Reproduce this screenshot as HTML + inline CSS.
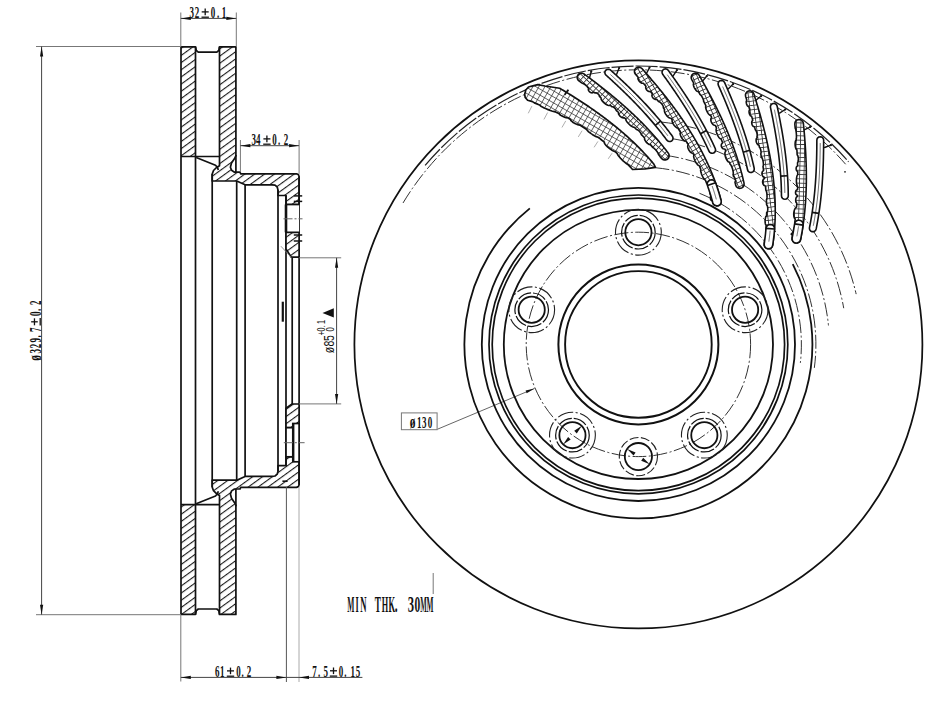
<!DOCTYPE html>
<html><head><meta charset="utf-8"><style>
html,body{margin:0;padding:0;background:#fff;}
svg{display:block;}
</style></head><body>
<svg width="952" height="719" viewBox="0 0 952 719">
<defs><pattern id="h1" patternUnits="userSpaceOnUse" width="10" height="5.8" patternTransform="rotate(-36)"><rect width="10" height="5.8" fill="#fff"/><line x1="0" y1="0.55" x2="10" y2="0.55" stroke="#1a1a1a" stroke-width="1.1"/></pattern><pattern id="xh1" patternUnits="userSpaceOnUse" width="4.3" height="4.3" patternTransform="rotate(43.21)"><rect width="4.3" height="4.3" fill="#fff"/><path d="M0 0.45H4.3 M0.45 0V4.3" stroke="#333" stroke-width="0.85"/></pattern><pattern id="xh2" patternUnits="userSpaceOnUse" width="4.3" height="4.3" patternTransform="rotate(58.99)"><rect width="4.3" height="4.3" fill="#fff"/><path d="M0 0.45H4.3 M0.45 0V4.3" stroke="#333" stroke-width="0.85"/></pattern><pattern id="xh3" patternUnits="userSpaceOnUse" width="4.3" height="4.3" patternTransform="rotate(67.42)"><rect width="4.3" height="4.3" fill="#fff"/><path d="M0 0.45H4.3 M0.45 0V4.3" stroke="#333" stroke-width="0.85"/></pattern><pattern id="xh4" patternUnits="userSpaceOnUse" width="4.3" height="4.3" patternTransform="rotate(82.85)"><rect width="4.3" height="4.3" fill="#fff"/><path d="M0 0.45H4.3 M0.45 0V4.3" stroke="#333" stroke-width="0.85"/></pattern><pattern id="xh5" patternUnits="userSpaceOnUse" width="4.3" height="4.3" patternTransform="rotate(91.38)"><rect width="4.3" height="4.3" fill="#fff"/><path d="M0 0.45H4.3 M0.45 0V4.3" stroke="#333" stroke-width="0.85"/></pattern><pattern id="xh6" patternUnits="userSpaceOnUse" width="5.2" height="5.2" patternTransform="rotate(-60)"><rect width="5.2" height="5.2" fill="#fff"/><path d="M0 0.45H5.2 M0.45 0V5.2" stroke="#333" stroke-width="0.7"/></pattern></defs>
<rect width="952" height="719" fill="#fff"/>
<polygon points="181,46.8 195.5,46.8 195.5,156.5 181,156.5" fill="url(#h1)" stroke="none"/>
<polygon points="219.5,46.8 235.9,46.8 235.9,155.7 234.6,158.5 231.5,163 230.4,167.2 231.6,170.3 234.5,172.2 240.1,172.2 240.6,173.8 296.5,173.8 298.4,174.6 299.1,176.5 299.1,204.5 286,204.5 286,195.5 278,195.5 278,190 277.2,187 275,185.2 272,184.8 245.1,184.8 236.7,181 212.2,181 212.2,174.1 213.5,170.5 216.5,167.5 219.5,165.7" fill="url(#h1)" stroke="#111" stroke-width="1.7" stroke-linejoin="round"/>
<polygon points="181,614.4 195.5,614.4 195.5,504.7 181,504.7" fill="url(#h1)" stroke="none"/>
<polygon points="219.5,614.4 235.9,614.4 235.9,505.5 234.6,502.7 231.5,498.2 230.4,494 231.6,490.9 234.5,489 240.1,489 240.6,487.4 296.5,487.4 298.4,486.6 299.1,484.7 299.1,456.7 286,456.7 286,465.7 278,465.7 278,471.2 277.2,474.2 275,476 272,476.4 245.1,476.4 236.7,480.2 212.2,480.2 212.2,487.1 213.5,490.7 216.5,493.7 219.5,495.5" fill="url(#h1)" stroke="#111" stroke-width="1.7" stroke-linejoin="round"/>
<line x1="181" y1="46.8" x2="181" y2="614.7" stroke="#111" stroke-width="1.7"/>
<line x1="195.5" y1="46.8" x2="195.5" y2="614.7" stroke="#111" stroke-width="1.7"/>
<polyline points="181,46.8 195.5,46.8 196.3,50.5 198.3,52.2 216.8,52.2 218.8,50.5 219.5,46.8" fill="none" stroke="#111" stroke-width="1.7" stroke-linejoin="round"/>
<line x1="181" y1="156.5" x2="219.5" y2="156.5" stroke="#111" stroke-width="1.7"/>
<polyline points="196.2,157.5 215.5,165.2 217.5,167.5 218.3,170" fill="none" stroke="#111" stroke-width="1.7" stroke-linejoin="round"/>
<line x1="235.9" y1="155" x2="235.9" y2="172.2" stroke="#111" stroke-width="1.7"/>
<polyline points="181,614.4 195.5,614.4 196.3,610.7 198.3,609 216.8,609 218.8,610.7 219.5,614.4" fill="none" stroke="#111" stroke-width="1.7" stroke-linejoin="round"/>
<line x1="181" y1="504.7" x2="219.5" y2="504.7" stroke="#111" stroke-width="1.7"/>
<polyline points="196.2,503.7 215.5,496 217.5,493.7 218.3,491.2" fill="none" stroke="#111" stroke-width="1.7" stroke-linejoin="round"/>
<line x1="235.9" y1="506.2" x2="235.9" y2="489" stroke="#111" stroke-width="1.7"/>
<line x1="212.2" y1="174.1" x2="212.2" y2="487.1" stroke="#111" stroke-width="1.7"/>
<line x1="236.7" y1="181" x2="236.7" y2="480.2" stroke="#111" stroke-width="1.7"/>
<line x1="245.1" y1="184.8" x2="245.1" y2="476.4" stroke="#111" stroke-width="1.7"/>
<line x1="278" y1="190" x2="278" y2="471.2" stroke="#111" stroke-width="1.7"/>
<line x1="286" y1="195.5" x2="286" y2="465.7" stroke="#111" stroke-width="1.7"/>
<line x1="292.2" y1="257" x2="292.2" y2="404.2" stroke="#111" stroke-width="1.7"/>
<line x1="299.1" y1="176.5" x2="299.1" y2="484.7" stroke="#111" stroke-width="1.7"/>
<rect x="286" y="204.5" width="13.1" height="27.8" fill="#fff"/>
<polygon points="286,232.3 299.1,232.3 299.1,257.2 291.3,257.2 286,249" fill="url(#h1)" stroke="#111" stroke-width="1.7" stroke-linejoin="round"/>
<line x1="286" y1="204.5" x2="286" y2="232.3" stroke="#111" stroke-width="2.6"/>
<line x1="286" y1="204.5" x2="299.1" y2="204.5" stroke="#111" stroke-width="1.7"/>
<line x1="293.8" y1="195.9" x2="302.2" y2="195.9" stroke="#111" stroke-width="1.5"/>
<line x1="293.8" y1="201.4" x2="302.2" y2="201.4" stroke="#111" stroke-width="1.5"/>
<line x1="293.8" y1="235" x2="302.2" y2="235" stroke="#111" stroke-width="1.5"/>
<line x1="293.8" y1="241" x2="302.2" y2="241" stroke="#111" stroke-width="1.5"/>
<line x1="283.5" y1="218.8" x2="302.5" y2="218.8" stroke="#666" stroke-width="1" stroke-dasharray="9 2 2 2"/>
<line x1="280.9" y1="246.2" x2="291.3" y2="257.4" stroke="#777" stroke-width="0.8"/>
<polygon points="292.1,404 299.1,404 299.1,427.7 286,427.7 286,408.2" fill="url(#h1)" stroke="#111" stroke-width="1.7" stroke-linejoin="round"/>
<rect x="286" y="427.7" width="13.1" height="29.1" fill="#fff" stroke="#111" stroke-width="1.7"/>
<rect x="292.8" y="423.5" width="6.3" height="38.3" fill="#fff" stroke="#111" stroke-width="1.7"/>
<line x1="293.2" y1="423.5" x2="293.2" y2="461.8" stroke="#111" stroke-width="2.4"/>
<line x1="283.8" y1="442.7" x2="304.6" y2="442.7" stroke="#666" stroke-width="1" stroke-dasharray="9 2 2 2"/>
<line x1="282.4" y1="481.2" x2="287.6" y2="481.2" stroke="#111" stroke-width="1.6"/>
<line x1="282.8" y1="301.7" x2="282.8" y2="321.7" stroke="#111" stroke-width="2.2"/>
<line x1="180.8" y1="12.5" x2="180.8" y2="46.8" stroke="#777" stroke-width="1"/>
<line x1="236.3" y1="12.5" x2="236.3" y2="46.8" stroke="#777" stroke-width="1"/>
<line x1="180.8" y1="18.4" x2="236.3" y2="18.4" stroke="#444" stroke-width="1"/>
<polygon points="180.8,18.4 190.8,16.8 190.8,20" fill="#111"/>
<polygon points="236.3,18.4 226.3,20 226.3,16.8" fill="#111"/>
<line x1="240.4" y1="140" x2="240.4" y2="172.2" stroke="#777" stroke-width="1"/>
<line x1="299.1" y1="140" x2="299.1" y2="173.8" stroke="#777" stroke-width="1"/>
<line x1="240.4" y1="145.7" x2="299.1" y2="145.7" stroke="#444" stroke-width="1"/>
<polygon points="240.4,145.7 250.4,144.1 250.4,147.3" fill="#111"/>
<polygon points="299.1,145.7 289.1,147.3 289.1,144.1" fill="#111"/>
<line x1="299.1" y1="257.8" x2="341.2" y2="257.8" stroke="#777" stroke-width="1"/>
<line x1="299.1" y1="403.9" x2="341.2" y2="403.9" stroke="#777" stroke-width="1"/>
<line x1="336.6" y1="257.8" x2="336.6" y2="403.9" stroke="#444" stroke-width="1"/>
<polygon points="336.6,257.8 338.2,267.8 335,267.8" fill="#111"/>
<polygon points="336.6,403.9 335,393.9 338.2,393.9" fill="#111"/>
<polygon points="322.5,313 333.8,308.2 333.8,317.6" fill="#111"/>
<line x1="36" y1="46.5" x2="181" y2="46.5" stroke="#777" stroke-width="1"/>
<line x1="36" y1="614.7" x2="181" y2="614.7" stroke="#777" stroke-width="1"/>
<line x1="41.6" y1="46.5" x2="41.6" y2="614.7" stroke="#444" stroke-width="1"/>
<polygon points="41.6,46.5 43.2,56.5 40,56.5" fill="#111"/>
<polygon points="41.6,614.7 40,604.7 43.2,604.7" fill="#111"/>
<line x1="180.8" y1="614.7" x2="180.8" y2="681.5" stroke="#777" stroke-width="1"/>
<line x1="286.4" y1="487" x2="286.4" y2="682" stroke="#555" stroke-width="1"/>
<line x1="299" y1="487" x2="299" y2="682" stroke="#aaa" stroke-width="1"/>
<line x1="180.8" y1="677.4" x2="362.4" y2="677.4" stroke="#444" stroke-width="1"/>
<polygon points="180.8,677.4 190.8,675.8 190.8,679" fill="#111"/>
<polygon points="286.4,677.4 276.4,679 276.4,675.8" fill="#111"/>
<polygon points="299,677.4 309,675.8 309,679" fill="#111"/>
<line x1="433.2" y1="573" x2="433.2" y2="594" stroke="#777" stroke-width="1"/>
<text transform="translate(191.7 17.8) scale(0.56 1)" font-size="16.0" text-anchor="middle" font-family="'Liberation Serif', serif" font-weight="bold" fill="#111">3</text>
<text transform="translate(196.9 17.8) scale(0.56 1)" font-size="16.0" text-anchor="middle" font-family="'Liberation Serif', serif" font-weight="bold" fill="#111">2</text>
<line x1="201.7" y1="11.89" x2="208.7" y2="11.89" stroke="#111" stroke-width="1.3"/><line x1="205.2" y1="8.59" x2="205.2" y2="15.19" stroke="#111" stroke-width="1.3"/><line x1="201.5" y1="17.2" x2="208.9" y2="17.2" stroke="#111" stroke-width="1.3"/>
<text transform="translate(213 17.8) scale(0.56 1)" font-size="16.0" text-anchor="middle" font-family="'Liberation Serif', serif" font-weight="bold" fill="#111">0</text>
<text transform="translate(218 17.8) scale(0.56 1)" font-size="16.0" text-anchor="middle" font-family="'Liberation Serif', serif" font-weight="bold" fill="#111">.</text>
<text transform="translate(224 17.8) scale(0.56 1)" font-size="16.0" text-anchor="middle" font-family="'Liberation Serif', serif" font-weight="bold" fill="#111">1</text>
<text transform="translate(253.7 144.8) scale(0.56 1)" font-size="16.0" text-anchor="middle" font-family="'Liberation Serif', serif" font-weight="bold" fill="#111">3</text>
<text transform="translate(258.3 144.8) scale(0.56 1)" font-size="16.0" text-anchor="middle" font-family="'Liberation Serif', serif" font-weight="bold" fill="#111">4</text>
<line x1="263.4" y1="138.89" x2="270.4" y2="138.89" stroke="#111" stroke-width="1.3"/><line x1="266.9" y1="135.59" x2="266.9" y2="142.19" stroke="#111" stroke-width="1.3"/><line x1="263.2" y1="144.2" x2="270.6" y2="144.2" stroke="#111" stroke-width="1.3"/>
<text transform="translate(274.4 144.8) scale(0.56 1)" font-size="16.0" text-anchor="middle" font-family="'Liberation Serif', serif" font-weight="bold" fill="#111">0</text>
<text transform="translate(279.2 144.8) scale(0.56 1)" font-size="16.0" text-anchor="middle" font-family="'Liberation Serif', serif" font-weight="bold" fill="#111">.</text>
<text transform="translate(285.9 144.8) scale(0.56 1)" font-size="16.0" text-anchor="middle" font-family="'Liberation Serif', serif" font-weight="bold" fill="#111">2</text>
<text transform="translate(217.2 676.8) scale(0.56 1)" font-size="16.0" text-anchor="middle" font-family="'Liberation Serif', serif" font-weight="bold" fill="#111">6</text>
<text transform="translate(222.2 676.8) scale(0.56 1)" font-size="16.0" text-anchor="middle" font-family="'Liberation Serif', serif" font-weight="bold" fill="#111">1</text>
<line x1="227" y1="670.89" x2="234" y2="670.89" stroke="#111" stroke-width="1.3"/><line x1="230.5" y1="667.59" x2="230.5" y2="674.19" stroke="#111" stroke-width="1.3"/><line x1="226.8" y1="676.2" x2="234.2" y2="676.2" stroke="#111" stroke-width="1.3"/>
<text transform="translate(238.4 676.8) scale(0.56 1)" font-size="16.0" text-anchor="middle" font-family="'Liberation Serif', serif" font-weight="bold" fill="#111">0</text>
<text transform="translate(242.6 676.8) scale(0.56 1)" font-size="16.0" text-anchor="middle" font-family="'Liberation Serif', serif" font-weight="bold" fill="#111">.</text>
<text transform="translate(248.9 676.8) scale(0.56 1)" font-size="16.0" text-anchor="middle" font-family="'Liberation Serif', serif" font-weight="bold" fill="#111">2</text>
<text transform="translate(314.5 676.7) scale(0.56 1)" font-size="16.0" text-anchor="middle" font-family="'Liberation Serif', serif" font-weight="bold" fill="#111">7</text>
<text transform="translate(319 676.7) scale(0.56 1)" font-size="16.0" text-anchor="middle" font-family="'Liberation Serif', serif" font-weight="bold" fill="#111">.</text>
<text transform="translate(325.8 676.7) scale(0.56 1)" font-size="16.0" text-anchor="middle" font-family="'Liberation Serif', serif" font-weight="bold" fill="#111">5</text>
<line x1="330" y1="670.79" x2="337" y2="670.79" stroke="#111" stroke-width="1.3"/><line x1="333.5" y1="667.49" x2="333.5" y2="674.09" stroke="#111" stroke-width="1.3"/><line x1="329.8" y1="676.1" x2="337.2" y2="676.1" stroke="#111" stroke-width="1.3"/>
<text transform="translate(341.1 676.7) scale(0.56 1)" font-size="16.0" text-anchor="middle" font-family="'Liberation Serif', serif" font-weight="bold" fill="#111">0</text>
<text transform="translate(345.3 676.7) scale(0.56 1)" font-size="16.0" text-anchor="middle" font-family="'Liberation Serif', serif" font-weight="bold" fill="#111">.</text>
<text transform="translate(352.7 676.7) scale(0.56 1)" font-size="16.0" text-anchor="middle" font-family="'Liberation Serif', serif" font-weight="bold" fill="#111">1</text>
<text transform="translate(358.1 676.7) scale(0.56 1)" font-size="16.0" text-anchor="middle" font-family="'Liberation Serif', serif" font-weight="bold" fill="#111">5</text>
<text transform="translate(40.8 357.9) rotate(-90) scale(0.62 1)" font-size="18.5" text-anchor="middle" font-family="'Liberation Serif', serif" font-weight="bold" fill="#111">ø</text>
<text transform="translate(40.8 351.2) rotate(-90) scale(0.56 1)" font-size="16.0" text-anchor="middle" font-family="'Liberation Serif', serif" font-weight="bold" fill="#111">3</text>
<text transform="translate(40.8 346) rotate(-90) scale(0.56 1)" font-size="16.0" text-anchor="middle" font-family="'Liberation Serif', serif" font-weight="bold" fill="#111">2</text>
<text transform="translate(40.8 340.3) rotate(-90) scale(0.56 1)" font-size="16.0" text-anchor="middle" font-family="'Liberation Serif', serif" font-weight="bold" fill="#111">9</text>
<text transform="translate(40.8 336.3) rotate(-90) scale(0.56 1)" font-size="16.0" text-anchor="middle" font-family="'Liberation Serif', serif" font-weight="bold" fill="#111">.</text>
<text transform="translate(40.8 329.8) rotate(-90) scale(0.56 1)" font-size="16.0" text-anchor="middle" font-family="'Liberation Serif', serif" font-weight="bold" fill="#111">7</text>
<line x1="34.46" y1="318.3" x2="34.46" y2="325.3" stroke="#111" stroke-width="1.3"/><line x1="31.16" y1="321.8" x2="37.76" y2="321.8" stroke="#111" stroke-width="1.3"/><line x1="40.2" y1="318.1" x2="40.2" y2="325.5" stroke="#111" stroke-width="1.3"/>
<text transform="translate(40.8 313.7) rotate(-90) scale(0.56 1)" font-size="16.0" text-anchor="middle" font-family="'Liberation Serif', serif" font-weight="bold" fill="#111">0</text>
<text transform="translate(40.8 309.8) rotate(-90) scale(0.56 1)" font-size="16.0" text-anchor="middle" font-family="'Liberation Serif', serif" font-weight="bold" fill="#111">.</text>
<text transform="translate(40.8 302.7) rotate(-90) scale(0.56 1)" font-size="16.0" text-anchor="middle" font-family="'Liberation Serif', serif" font-weight="bold" fill="#111">2</text>
<text transform="translate(333.8 350.1) rotate(-90) scale(0.72 1)" font-size="14.5" text-anchor="middle" font-family="'Liberation Sans', sans-serif" font-weight="normal" fill="#111">ø</text>
<text transform="translate(333.8 343.7) rotate(-90) scale(0.72 1)" font-size="14.5" text-anchor="middle" font-family="'Liberation Sans', sans-serif" font-weight="normal" fill="#111">8</text>
<text transform="translate(333.8 338.2) rotate(-90) scale(0.72 1)" font-size="14.5" text-anchor="middle" font-family="'Liberation Sans', sans-serif" font-weight="normal" fill="#111">5</text>
<text transform="translate(333.8 329.5) rotate(-90) scale(0.72 1)" font-size="10.5" text-anchor="middle" font-family="'Liberation Sans', sans-serif" font-weight="normal" fill="#111">0</text>
<text transform="translate(324.6 333.2) rotate(-90) scale(0.72 1)" font-size="10.0" text-anchor="middle" font-family="'Liberation Sans', sans-serif" font-weight="normal" fill="#111">+</text>
<text transform="translate(324.6 329.5) rotate(-90) scale(0.72 1)" font-size="10.0" text-anchor="middle" font-family="'Liberation Sans', sans-serif" font-weight="normal" fill="#111">0</text>
<text transform="translate(324.6 326.3) rotate(-90) scale(0.72 1)" font-size="10.0" text-anchor="middle" font-family="'Liberation Sans', sans-serif" font-weight="normal" fill="#111">.</text>
<text transform="translate(324.6 322) rotate(-90) scale(0.72 1)" font-size="10.0" text-anchor="middle" font-family="'Liberation Sans', sans-serif" font-weight="normal" fill="#111">1</text>
<text transform="translate(412.5 427.9) scale(0.62 1)" font-size="18.5" text-anchor="middle" font-family="'Liberation Serif', serif" font-weight="bold" fill="#111">ø</text>
<text transform="translate(419.3 427.9) scale(0.56 1)" font-size="16.0" text-anchor="middle" font-family="'Liberation Serif', serif" font-weight="bold" fill="#111">1</text>
<text transform="translate(424.2 427.9) scale(0.56 1)" font-size="16.0" text-anchor="middle" font-family="'Liberation Serif', serif" font-weight="bold" fill="#111">3</text>
<text transform="translate(429.9 427.9) scale(0.56 1)" font-size="16.0" text-anchor="middle" font-family="'Liberation Serif', serif" font-weight="bold" fill="#111">0</text>
<text transform="translate(350.8 611.7) scale(0.33 1)" font-size="23" text-anchor="middle" font-family="'Liberation Serif', serif" font-weight="bold" fill="#111">M</text>
<text transform="translate(357.2 611.7) scale(0.36 1)" font-size="23" text-anchor="middle" font-family="'Liberation Serif', serif" font-weight="bold" fill="#111">I</text>
<text transform="translate(363.5 611.7) scale(0.38 1)" font-size="23" text-anchor="middle" font-family="'Liberation Serif', serif" font-weight="bold" fill="#111">N</text>
<text transform="translate(377.9 611.7) scale(0.4 1)" font-size="23" text-anchor="middle" font-family="'Liberation Serif', serif" font-weight="bold" fill="#111">T</text>
<text transform="translate(384.9 611.7) scale(0.36 1)" font-size="23" text-anchor="middle" font-family="'Liberation Serif', serif" font-weight="bold" fill="#111">H</text>
<text transform="translate(391.8 611.7) scale(0.37 1)" font-size="23" text-anchor="middle" font-family="'Liberation Serif', serif" font-weight="bold" fill="#111">K</text>
<text transform="translate(396.2 611.7) scale(0.5 1)" font-size="23" text-anchor="middle" font-family="'Liberation Serif', serif" font-weight="bold" fill="#111">.</text>
<text transform="translate(410.8 611.7) scale(0.55 1)" font-size="23" text-anchor="middle" font-family="'Liberation Serif', serif" font-weight="bold" fill="#111">3</text>
<text transform="translate(417.4 611.7) scale(0.5 1)" font-size="23" text-anchor="middle" font-family="'Liberation Serif', serif" font-weight="bold" fill="#111">0</text>
<text transform="translate(423.4 611.7) scale(0.3 1)" font-size="23" text-anchor="middle" font-family="'Liberation Serif', serif" font-weight="bold" fill="#111">M</text>
<text transform="translate(430 611.7) scale(0.32 1)" font-size="23" text-anchor="middle" font-family="'Liberation Serif', serif" font-weight="bold" fill="#111">M</text>
<rect x="401.4" y="412.9" width="35.7" height="16.8" fill="none" stroke="#777" stroke-width="1"/>
<line x1="437.5" y1="429.2" x2="534.5" y2="388.5" stroke="#555" stroke-width="0.9"/>
<polygon points="534.5,388.5 526.68,393.17 525.63,390.57" fill="#111"/>
<circle cx="638.4" cy="344.4" r="284" fill="none" stroke="#111" stroke-width="1.75"/>
<path d="M425.13 165.45A278.4 278.4 0 0 1 848.51 161.75" fill="none" stroke="#222" stroke-width="1.2" stroke-dasharray="22 2"/>
<path d="M403.02 202.97A274.6 274.6 0 0 1 845.64 164.25" fill="none" stroke="#333" stroke-width="1.0" stroke-dasharray="14 2.5 2 2.5"/>
<path d="M792.74 264.06A174 174 0 1 1 529.84 208.42" fill="none" stroke="#111" stroke-width="1.8"/>
<circle cx="638.4" cy="344.4" r="156.6" fill="none" stroke="#111" stroke-width="1.8"/>
<circle cx="638.4" cy="344.4" r="149.4" fill="none" stroke="#111" stroke-width="1.7"/>
<circle cx="638.4" cy="344.4" r="146.2" fill="none" stroke="#111" stroke-width="1.7"/>
<circle cx="638.4" cy="344.4" r="134.6" fill="none" stroke="#111" stroke-width="1.8"/>
<circle cx="638.4" cy="344.4" r="112.2" fill="none" stroke="#333" stroke-width="1.0" stroke-dasharray="14 2.5 2 2.5"/>
<circle cx="638.4" cy="344.4" r="80" fill="none" stroke="#111" stroke-width="2.0"/>
<circle cx="638.4" cy="344.4" r="73.3" fill="none" stroke="#111" stroke-width="1.9"/>
<path d="M699.46 193.27A163 163 0 0 1 800.35 362.85" fill="none" stroke="#333" stroke-width="1.0" stroke-dasharray="14 2.5 2 2.5"/>
<path d="M655.41 167.72A177.5 177.5 0 0 1 814.34 367.88" fill="none" stroke="#333" stroke-width="1.0" stroke-dasharray="14 2.5 2 2.5"/>
<path d="M664.98 155.26A191 191 0 0 1 828.46 325.43" fill="none" stroke="#333" stroke-width="1.0" stroke-dasharray="14 2.5 2 2.5"/>
<path d="M671.02 138.47A208.5 208.5 0 0 1 843.73 308.19" fill="none" stroke="#333" stroke-width="1.0" stroke-dasharray="14 2.5 2 2.5"/>
<path d="M661.76 122.12A223.5 223.5 0 0 1 856.17 294.12" fill="none" stroke="#333" stroke-width="1.0" stroke-dasharray="14 2.5 2 2.5"/>
<circle cx="638.4" cy="232.2" r="13.1" fill="none" stroke="#111" stroke-width="1.8"/>
<circle cx="638.4" cy="232.2" r="16.8" fill="none" stroke="#111" stroke-width="1.2" stroke-dasharray="14 2"/>
<circle cx="638.4" cy="232.2" r="22.9" fill="none" stroke="#222" stroke-width="1.1" stroke-dasharray="16 2.5 2 2.5"/>
<circle cx="745.11" cy="309.73" r="13.1" fill="none" stroke="#111" stroke-width="1.8"/>
<circle cx="745.11" cy="309.73" r="16.8" fill="none" stroke="#111" stroke-width="1.2" stroke-dasharray="14 2"/>
<circle cx="745.11" cy="309.73" r="22.9" fill="none" stroke="#222" stroke-width="1.1" stroke-dasharray="16 2.5 2 2.5"/>
<circle cx="704.35" cy="435.17" r="13.1" fill="none" stroke="#111" stroke-width="1.8"/>
<circle cx="704.35" cy="435.17" r="16.8" fill="none" stroke="#111" stroke-width="1.2" stroke-dasharray="14 2"/>
<circle cx="704.35" cy="435.17" r="22.9" fill="none" stroke="#222" stroke-width="1.1" stroke-dasharray="16 2.5 2 2.5"/>
<circle cx="572.45" cy="435.17" r="13.1" fill="none" stroke="#111" stroke-width="1.8"/>
<circle cx="572.45" cy="435.17" r="16.8" fill="none" stroke="#111" stroke-width="1.2" stroke-dasharray="14 2"/>
<circle cx="572.45" cy="435.17" r="22.9" fill="none" stroke="#222" stroke-width="1.1" stroke-dasharray="16 2.5 2 2.5"/>
<circle cx="531.69" cy="309.73" r="13.1" fill="none" stroke="#111" stroke-width="1.8"/>
<circle cx="531.69" cy="309.73" r="16.8" fill="none" stroke="#111" stroke-width="1.2" stroke-dasharray="14 2"/>
<circle cx="531.69" cy="309.73" r="22.9" fill="none" stroke="#222" stroke-width="1.1" stroke-dasharray="16 2.5 2 2.5"/>
<circle cx="638.4" cy="456.6" r="13.6" fill="none" stroke="#111" stroke-width="1.8"/>
<circle cx="638.4" cy="456.6" r="19.1" fill="none" stroke="#222" stroke-width="1.1" stroke-dasharray="9 2.5"/>
<polygon points="581.86,425.77 576.76,433.4 574.22,430.86" fill="#111"/>
<polygon points="563.05,444.58 568.14,436.94 570.68,439.49" fill="#111"/>
<polygon points="649.67,464.21 641.21,460.66 643.22,457.68" fill="#111"/>
<polygon points="627.13,448.99 635.59,452.54 633.58,455.52" fill="#111"/>
<circle cx="845" cy="171.8" r="0.9" fill="#222"/>
<path d="M610.54 70.05 L609.4 69.37 L608.09 69.17 L606.8 69.49 L605.74 70.28 L605.06 71.42 L604.86 72.73 L605.18 74.02 L605.97 75.08 L606.71 75.76 L607.45 76.43 L608.19 77.1 L608.93 77.77 L609.67 78.44 L610.4 79.11 L611.13 79.78 L611.87 80.46 L612.6 81.13 L613.33 81.81 L614.06 82.48 L614.79 83.16 L615.52 83.84 L616.24 84.52 L616.97 85.2 L617.7 85.88 L618.42 86.56 L619.14 87.24 L619.86 87.93 L620.58 88.62 L621.3 89.3 L622.02 89.99 L622.74 90.68 L623.45 91.37 L624.17 92.06 L624.88 92.75 L625.59 93.45 L626.3 94.14 L627.01 94.84 L627.72 95.54 L628.42 96.23 L629.13 96.93 L629.83 97.64 L630.53 98.34 L631.24 99.04 L631.93 99.75 L632.63 100.46 L633.33 101.16 L634.02 101.87 L634.71 102.58 L635.41 103.3 L636.1 104.01 L636.78 104.73 L637.47 105.44 L638.15 106.16 L638.84 106.88 L639.52 107.6 L640.2 108.33 L640.88 109.05 L641.55 109.78 L642.23 110.5 L642.9 111.23 L643.57 111.96 L644.24 112.7 L644.9 113.43 L645.57 114.16 L646.23 114.9 L646.89 115.64 L647.55 116.38 L648.21 117.12 L648.86 117.87 L649.52 118.61 L650.17 119.36 L650.82 120.11 L651.46 120.86 L652.11 121.61 L652.75 122.36 L653.39 123.12 L654.03 123.88 L654.67 124.64 L655.3 125.4 L655.93 126.16 L656.56 126.92 L657.19 127.69 L657.81 128.46 L658.43 129.23 L659.05 130 L659.67 130.77 L660.29 131.55 L660.9 132.32 L661.51 133.1 L662.12 133.88 L662.72 134.66 L663.32 135.45 L663.92 136.23 L664.51 137.02 L665.11 137.82 L665.71 138.61 L666.3 139.41 L666.9 140.22 L667.89 141.1 L669.14 141.55 L670.46 141.48 L671.66 140.91 L672.55 139.92 L672.99 138.67 L672.92 137.34 L672.35 136.15 L671.75 135.35 L671.15 134.54 L670.55 133.74 L669.95 132.93 L669.34 132.13 L668.73 131.32 L668.11 130.51 L667.49 129.71 L666.87 128.92 L666.25 128.12 L665.62 127.33 L664.99 126.54 L664.36 125.75 L663.73 124.96 L663.09 124.17 L662.46 123.39 L661.82 122.61 L661.17 121.83 L660.53 121.05 L659.88 120.28 L659.24 119.5 L658.58 118.73 L657.93 117.96 L657.28 117.19 L656.62 116.42 L655.96 115.66 L655.3 114.9 L654.64 114.14 L653.97 113.38 L653.31 112.62 L652.64 111.87 L651.97 111.11 L651.29 110.36 L650.62 109.61 L649.94 108.86 L649.26 108.12 L648.58 107.37 L647.9 106.63 L647.22 105.89 L646.53 105.15 L645.85 104.41 L645.16 103.67 L644.47 102.94 L643.78 102.21 L643.08 101.48 L642.39 100.75 L641.69 100.02 L640.99 99.29 L640.29 98.57 L639.59 97.84 L638.89 97.12 L638.18 96.4 L637.48 95.68 L636.77 94.97 L636.06 94.25 L635.35 93.54 L634.64 92.83 L633.93 92.12 L633.21 91.41 L632.5 90.7 L631.78 89.99 L631.06 89.29 L630.34 88.58 L629.62 87.88 L628.9 87.18 L628.18 86.48 L627.45 85.78 L626.73 85.08 L626 84.39 L625.28 83.69 L624.55 83 L623.82 82.31 L623.09 81.62 L622.36 80.93 L621.62 80.24 L620.89 79.55 L620.16 78.87 L619.42 78.18 L618.69 77.5 L617.95 76.81 L617.21 76.13 L616.47 75.45 L615.73 74.77 L614.99 74.09 L614.25 73.42 L613.51 72.74 L612.76 72.06 L612.02 71.39 L611.28 70.72Z" fill="#fff" stroke="#111" stroke-width="1.6" stroke-linejoin="round"/>
<polyline points="610.48,74.58 611.22,75.25 611.96,75.93 612.7,76.6 613.43,77.28 614.17,77.95 614.9,78.63 615.64,79.31 616.37,79.99 617.11,80.67 617.84,81.35 618.57,82.03 619.3,82.72 620.03,83.4 620.75,84.09 621.48,84.78 622.21,85.47 622.93,86.15 623.65,86.85 624.38,87.54 625.1,88.23 625.82,88.92 626.53,89.62 627.25,90.32 627.97,91.01 628.68,91.71 629.4,92.41 630.11,93.12 630.82,93.82 631.53,94.53 632.24,95.23 632.94,95.94 633.65,96.65 634.35,97.36 635.05,98.07 635.76,98.78 636.45,99.5 637.15,100.21 637.85,100.93 638.54,101.65 639.24,102.37 639.93,103.09 640.62,103.82 641.31,104.54 641.99,105.27 642.68,106 643.36,106.73 644.04,107.46 644.72,108.2 645.4,108.93 646.08,109.67 646.75,110.41 647.42,111.15 648.09,111.89 648.76,112.63 649.43,113.38 650.09,114.12 650.76,114.87 651.42,115.62 652.08,116.37 652.73,117.13 653.39,117.88 654.04,118.64 654.69,119.4 655.34,120.16 655.99,120.92 656.63,121.69 657.27,122.46 657.91,123.22 658.55,123.99 659.19,124.77 659.82,125.54 660.45,126.32 661.08,127.09 661.71,127.87 662.33,128.65 662.95,129.44 663.57,130.22 664.19,131.01 664.8,131.8 665.42,132.59 666.02,133.38 666.63,134.18 667.23,134.98 667.83,135.78" fill="none" stroke="#444" stroke-width="0.8"/>
<line x1="655.3" y1="125.4" x2="660.53" y2="121.05" stroke="#111" stroke-width="1.6"/>
<path d="M668.19 70.25 L667.22 69.35 L665.98 68.88 L664.65 68.93 L663.44 69.48 L662.54 70.45 L662.08 71.69 L662.12 73.02 L662.67 74.23 L663.26 75.04 L663.84 75.85 L664.43 76.66 L665.01 77.47 L665.59 78.28 L666.17 79.09 L666.75 79.9 L667.32 80.71 L667.9 81.52 L668.47 82.33 L669.05 83.15 L669.62 83.96 L670.19 84.77 L670.76 85.59 L671.33 86.41 L671.9 87.22 L672.46 88.04 L673.03 88.86 L673.59 89.68 L674.15 90.5 L674.71 91.32 L675.27 92.14 L675.83 92.97 L676.39 93.79 L676.94 94.62 L677.5 95.44 L678.05 96.27 L678.6 97.1 L679.15 97.92 L679.69 98.75 L680.24 99.58 L680.78 100.41 L681.32 101.25 L681.87 102.08 L682.4 102.92 L682.94 103.75 L683.48 104.59 L684.01 105.42 L684.54 106.26 L685.07 107.1 L685.6 107.94 L686.13 108.78 L686.65 109.63 L687.17 110.47 L687.69 111.32 L688.21 112.16 L688.73 113.01 L689.24 113.86 L689.75 114.71 L690.26 115.56 L690.77 116.41 L691.28 117.26 L691.78 118.12 L692.28 118.97 L692.78 119.83 L693.28 120.69 L693.78 121.54 L694.27 122.4 L694.76 123.27 L695.25 124.13 L695.73 124.99 L696.22 125.86 L696.7 126.72 L697.18 127.59 L697.66 128.46 L698.13 129.33 L698.6 130.2 L699.07 131.07 L699.54 131.95 L700 132.82 L700.46 133.7 L700.92 134.57 L701.38 135.45 L701.83 136.33 L702.28 137.21 L702.73 138.09 L703.18 138.98 L703.62 139.86 L704.06 140.75 L704.5 141.64 L704.94 142.53 L705.37 143.41 L705.8 144.31 L706.22 145.2 L706.64 146.09 L707.06 146.98 L707.48 147.88 L707.89 148.78 L708.31 149.69 L708.72 150.6 L709.06 151.33 L709.84 152.41 L710.97 153.1 L712.28 153.31 L713.57 153 L714.64 152.23 L715.34 151.1 L715.55 149.79 L715.24 148.5 L714.91 147.77 L714.49 146.86 L714.07 145.94 L713.65 145.03 L713.23 144.12 L712.8 143.2 L712.37 142.28 L711.93 141.36 L711.49 140.45 L711.05 139.54 L710.6 138.64 L710.16 137.73 L709.71 136.83 L709.25 135.92 L708.8 135.02 L708.34 134.12 L707.88 133.22 L707.42 132.32 L706.95 131.43 L706.48 130.53 L706.01 129.64 L705.54 128.75 L705.06 127.86 L704.58 126.97 L704.1 126.08 L703.62 125.2 L703.14 124.31 L702.65 123.43 L702.16 122.54 L701.66 121.66 L701.17 120.78 L700.67 119.91 L700.17 119.03 L699.67 118.16 L699.17 117.28 L698.66 116.41 L698.15 115.54 L697.64 114.67 L697.13 113.8 L696.62 112.93 L696.1 112.07 L695.58 111.2 L695.06 110.34 L694.54 109.48 L694.01 108.62 L693.49 107.76 L692.96 106.9 L692.43 106.04 L691.9 105.19 L691.36 104.33 L690.83 103.48 L690.29 102.63 L689.75 101.78 L689.21 100.93 L688.67 100.08 L688.12 99.23 L687.57 98.39 L687.03 97.54 L686.48 96.7 L685.93 95.86 L685.37 95.01 L684.82 94.17 L684.26 93.34 L683.71 92.5 L683.15 91.66 L682.59 90.83 L682.03 89.99 L681.46 89.16 L680.9 88.32 L680.33 87.49 L679.77 86.66 L679.2 85.83 L678.63 85 L678.06 84.18 L677.49 83.35 L676.91 82.52 L676.34 81.7 L675.76 80.88 L675.19 80.05 L674.61 79.23 L674.03 78.41 L673.45 77.59 L672.87 76.77 L672.29 75.95 L671.7 75.13 L671.12 74.32 L670.53 73.5 L669.95 72.69 L669.36 71.87 L668.77 71.06Z" fill="#fff" stroke="#111" stroke-width="1.6" stroke-linejoin="round"/>
<polyline points="667.19,74.67 667.77,75.48 668.35,76.3 668.94,77.11 669.52,77.92 670.1,78.74 670.67,79.55 671.25,80.37 671.83,81.19 672.4,82.01 672.98,82.83 673.55,83.64 674.12,84.47 674.69,85.29 675.26,86.11 675.83,86.93 676.4,87.76 676.96,88.58 677.52,89.41 678.09,90.23 678.65,91.06 679.21,91.89 679.77,92.72 680.32,93.55 680.88,94.38 681.43,95.22 681.98,96.05 682.53,96.88 683.08,97.72 683.63,98.56 684.18,99.39 684.72,100.23 685.26,101.07 685.8,101.92 686.34,102.76 686.88,103.6 687.41,104.45 687.95,105.29 688.48,106.14 689.01,106.99 689.54,107.84 690.06,108.69 690.59,109.54 691.11,110.39 691.63,111.24 692.15,112.1 692.67,112.96 693.18,113.81 693.69,114.67 694.2,115.53 694.71,116.39 695.22,117.26 695.72,118.12 696.22,118.98 696.72,119.85 697.22,120.72 697.72,121.59 698.21,122.46 698.7,123.33 699.19,124.2 699.67,125.07 700.16,125.95 700.64,126.83 701.12,127.7 701.59,128.58 702.07,129.46 702.54,130.35 703.01,131.23 703.47,132.11 703.94,133 704.4,133.89 704.86,134.78 705.31,135.67 705.77,136.56 706.22,137.45 706.66,138.34 707.11,139.24 707.55,140.14 707.99,141.03 708.43,141.93 708.86,142.84 709.29,143.74 709.72,144.64 710.14,145.55 710.56,146.46 710.98,147.36" fill="none" stroke="#444" stroke-width="0.8"/>
<line x1="700.46" y1="133.7" x2="706.48" y2="130.53" stroke="#111" stroke-width="1.6"/>
<path d="M724.54 82.44 L723.78 81.35 L722.66 80.64 L721.35 80.41 L720.06 80.7 L718.97 81.46 L718.26 82.58 L718.03 83.88 L718.32 85.18 L718.72 86.09 L719.12 87.01 L719.52 87.92 L719.93 88.83 L720.33 89.75 L720.72 90.66 L721.12 91.57 L721.52 92.48 L721.91 93.4 L722.3 94.31 L722.7 95.23 L723.09 96.14 L723.48 97.06 L723.86 97.97 L724.25 98.89 L724.64 99.81 L725.02 100.73 L725.4 101.64 L725.78 102.56 L726.16 103.48 L726.54 104.4 L726.92 105.32 L727.29 106.24 L727.66 107.17 L728.03 108.09 L728.4 109.01 L728.77 109.93 L729.14 110.86 L729.5 111.78 L729.86 112.71 L730.22 113.63 L730.58 114.56 L730.94 115.49 L731.3 116.41 L731.65 117.34 L732 118.27 L732.35 119.2 L732.7 120.13 L733.04 121.06 L733.39 121.99 L733.73 122.92 L734.07 123.86 L734.41 124.79 L734.74 125.72 L735.08 126.66 L735.41 127.59 L735.74 128.53 L736.06 129.47 L736.39 130.4 L736.71 131.34 L737.03 132.28 L737.35 133.22 L737.66 134.16 L737.98 135.1 L738.29 136.04 L738.59 136.99 L738.9 137.93 L739.2 138.87 L739.5 139.82 L739.8 140.76 L740.1 141.71 L740.39 142.65 L740.68 143.6 L740.97 144.55 L741.26 145.5 L741.54 146.45 L741.82 147.4 L742.1 148.35 L742.37 149.3 L742.65 150.25 L742.92 151.2 L743.18 152.16 L743.45 153.11 L743.71 154.07 L743.97 155.02 L744.22 155.98 L744.47 156.93 L744.72 157.89 L744.97 158.85 L745.21 159.81 L745.45 160.77 L745.69 161.73 L745.93 162.69 L746.16 163.65 L746.38 164.61 L746.6 165.57 L746.83 166.54 L747.05 167.51 L747.26 168.48 L747.48 169.46 L747.57 169.84 L748.11 171.05 L749.07 171.96 L750.31 172.43 L751.64 172.4 L752.85 171.86 L753.76 170.9 L754.24 169.66 L754.2 168.33 L754.12 167.96 L753.9 166.99 L753.68 166.01 L753.46 165.03 L753.23 164.05 L753.01 163.06 L752.77 162.08 L752.54 161.09 L752.3 160.11 L752.05 159.13 L751.81 158.15 L751.56 157.17 L751.31 156.19 L751.05 155.21 L750.79 154.23 L750.53 153.26 L750.27 152.28 L750 151.31 L749.73 150.33 L749.46 149.36 L749.19 148.39 L748.91 147.42 L748.63 146.45 L748.34 145.48 L748.06 144.51 L747.77 143.55 L747.48 142.58 L747.19 141.61 L746.89 140.65 L746.59 139.68 L746.29 138.72 L745.99 137.76 L745.68 136.8 L745.37 135.84 L745.06 134.88 L744.75 133.92 L744.43 132.96 L744.11 132.01 L743.79 131.05 L743.47 130.1 L743.14 129.14 L742.82 128.19 L742.49 127.23 L742.15 126.28 L741.82 125.33 L741.48 124.38 L741.14 123.43 L740.8 122.48 L740.46 121.54 L740.12 120.59 L739.77 119.64 L739.42 118.7 L739.07 117.76 L738.72 116.81 L738.36 115.87 L738.01 114.93 L737.65 113.99 L737.29 113.05 L736.93 112.11 L736.56 111.17 L736.2 110.23 L735.83 109.29 L735.46 108.36 L735.09 107.42 L734.72 106.49 L734.34 105.55 L733.97 104.62 L733.59 103.69 L733.21 102.76 L732.83 101.83 L732.45 100.9 L732.07 99.97 L731.68 99.04 L731.3 98.11 L730.91 97.18 L730.52 96.25 L730.13 95.33 L729.74 94.4 L729.34 93.48 L728.95 92.55 L728.55 91.63 L728.16 90.71 L727.76 89.78 L727.36 88.86 L726.96 87.94 L726.56 87.02 L726.15 86.1 L725.75 85.18 L725.34 84.27 L724.94 83.35Z" fill="#fff" stroke="#111" stroke-width="1.6" stroke-linejoin="round"/>
<polyline points="722.64,86.55 723.04,87.47 723.44,88.38 723.84,89.3 724.24,90.22 724.64,91.13 725.03,92.05 725.43,92.97 725.82,93.89 726.22,94.81 726.61,95.73 727,96.65 727.38,97.57 727.77,98.49 728.16,99.42 728.54,100.34 728.92,101.26 729.31,102.19 729.69,103.11 730.06,104.04 730.44,104.97 730.82,105.89 731.19,106.82 731.56,107.75 731.93,108.68 732.3,109.61 732.67,110.54 733.03,111.47 733.39,112.4 733.76,113.33 734.11,114.27 734.47,115.2 734.83,116.13 735.18,117.07 735.53,118.01 735.88,118.94 736.23,119.88 736.58,120.82 736.92,121.76 737.27,122.7 737.61,123.64 737.94,124.58 738.28,125.52 738.61,126.46 738.94,127.41 739.27,128.35 739.6,129.3 739.93,130.24 740.25,131.19 740.57,132.13 740.89,133.08 741.2,134.03 741.52,134.98 741.83,135.93 742.14,136.88 742.44,137.84 742.75,138.79 743.05,139.74 743.34,140.7 743.64,141.65 743.93,142.61 744.23,143.56 744.51,144.52 744.8,145.48 745.08,146.44 745.36,147.4 745.64,148.36 745.92,149.32 746.19,150.28 746.46,151.25 746.72,152.21 746.99,153.17 747.25,154.14 747.51,155.11 747.76,156.07 748.01,157.04 748.26,158.01 748.51,158.98 748.75,159.95 748.99,160.92 749.23,161.89 749.46,162.86 749.69,163.84 749.92,164.81 750.14,165.78 750.36,166.76" fill="none" stroke="#444" stroke-width="0.8"/>
<line x1="743.18" y1="152.16" x2="749.73" y2="150.33" stroke="#111" stroke-width="1.6"/>
<path d="M777.12 106.07 L776.6 104.85 L775.66 103.92 L774.43 103.42 L773.1 103.44 L771.88 103.95 L770.95 104.9 L770.45 106.13 L770.46 107.46 L770.67 108.44 L770.87 109.42 L771.08 110.39 L771.28 111.37 L771.48 112.34 L771.68 113.32 L771.88 114.29 L772.08 115.27 L772.27 116.25 L772.47 117.22 L772.66 118.2 L772.85 119.17 L773.04 120.15 L773.23 121.13 L773.42 122.11 L773.6 123.08 L773.79 124.06 L773.97 125.04 L774.15 126.02 L774.33 126.99 L774.51 127.97 L774.69 128.95 L774.86 129.93 L775.04 130.91 L775.21 131.89 L775.38 132.87 L775.54 133.85 L775.71 134.83 L775.87 135.81 L776.04 136.79 L776.2 137.77 L776.36 138.75 L776.51 139.73 L776.67 140.71 L776.82 141.69 L776.97 142.67 L777.12 143.65 L777.27 144.64 L777.41 145.62 L777.55 146.6 L777.69 147.58 L777.83 148.57 L777.97 149.55 L778.1 150.53 L778.23 151.52 L778.36 152.5 L778.49 153.48 L778.62 154.47 L778.74 155.45 L778.86 156.44 L778.98 157.42 L779.09 158.41 L779.2 159.39 L779.31 160.38 L779.42 161.36 L779.53 162.35 L779.63 163.33 L779.73 164.32 L779.83 165.31 L779.93 166.29 L780.02 167.28 L780.11 168.27 L780.2 169.25 L780.28 170.24 L780.36 171.23 L780.44 172.22 L780.52 173.2 L780.59 174.19 L780.67 175.18 L780.73 176.17 L780.8 177.16 L780.86 178.14 L780.92 179.13 L780.98 180.12 L781.03 181.11 L781.08 182.1 L781.13 183.09 L781.18 184.07 L781.22 185.06 L781.26 186.05 L781.29 187.04 L781.33 188.03 L781.36 189.02 L781.38 190 L781.4 190.99 L781.42 191.98 L781.44 192.97 L781.45 193.97 L781.46 194.97 L781.48 195.93 L781.75 197.22 L782.51 198.32 L783.62 199.04 L784.92 199.28 L786.22 199 L787.31 198.25 L788.03 197.13 L788.28 195.83 L788.26 194.87 L788.25 193.87 L788.23 192.87 L788.22 191.86 L788.2 190.86 L788.18 189.84 L788.15 188.83 L788.12 187.81 L788.09 186.8 L788.05 185.79 L788.01 184.78 L787.97 183.77 L787.92 182.77 L787.88 181.76 L787.82 180.75 L787.77 179.74 L787.71 178.73 L787.65 177.72 L787.58 176.72 L787.52 175.71 L787.45 174.7 L787.38 173.69 L787.3 172.69 L787.22 171.68 L787.14 170.67 L787.06 169.67 L786.97 168.66 L786.88 167.66 L786.79 166.65 L786.7 165.65 L786.6 164.64 L786.5 163.64 L786.4 162.64 L786.29 161.63 L786.18 160.63 L786.07 159.63 L785.96 158.63 L785.85 157.62 L785.73 156.62 L785.61 155.62 L785.49 154.62 L785.36 153.62 L785.24 152.62 L785.11 151.62 L784.97 150.62 L784.84 149.62 L784.71 148.62 L784.57 147.63 L784.43 146.63 L784.28 145.63 L784.14 144.64 L783.99 143.64 L783.84 142.64 L783.69 141.65 L783.54 140.65 L783.39 139.66 L783.23 138.66 L783.07 137.67 L782.91 136.67 L782.75 135.68 L782.58 134.69 L782.42 133.7 L782.25 132.7 L782.08 131.71 L781.91 130.72 L781.73 129.73 L781.56 128.74 L781.38 127.75 L781.2 126.76 L781.02 125.77 L780.84 124.78 L780.66 123.79 L780.47 122.8 L780.29 121.82 L780.1 120.83 L779.91 119.84 L779.72 118.86 L779.53 117.87 L779.33 116.88 L779.14 115.9 L778.94 114.91 L778.74 113.93 L778.54 112.94 L778.34 111.96 L778.14 110.97 L777.94 109.99 L777.73 109.01 L777.53 108.03 L777.33 107.05Z" fill="#fff" stroke="#111" stroke-width="1.6" stroke-linejoin="round"/>
<polyline points="774.41,109.7 774.61,110.68 774.81,111.66 775.01,112.64 775.21,113.62 775.41,114.6 775.61,115.58 775.8,116.56 776,117.54 776.19,118.52 776.38,119.5 776.57,120.49 776.76,121.47 776.95,122.45 777.13,123.43 777.31,124.42 777.5,125.4 777.68,126.38 777.86,127.37 778.03,128.35 778.21,129.33 778.38,130.32 778.56,131.3 778.73,132.29 778.9,133.28 779.06,134.26 779.23,135.25 779.39,136.23 779.55,137.22 779.71,138.21 779.87,139.2 780.03,140.18 780.18,141.17 780.33,142.16 780.48,143.15 780.63,144.14 780.78,145.13 780.92,146.12 781.06,147.11 781.2,148.1 781.34,149.09 781.47,150.08 781.6,151.07 781.73,152.06 781.86,153.05 781.99,154.04 782.11,155.04 782.23,156.03 782.35,157.02 782.47,158.02 782.58,159.01 782.69,160 782.8,161 782.91,161.99 783.01,162.99 783.12,163.98 783.21,164.98 783.31,165.97 783.4,166.97 783.5,167.96 783.58,168.96 783.67,169.95 783.75,170.95 783.83,171.95 783.91,172.95 783.98,173.94 784.06,174.94 784.13,175.94 784.19,176.94 784.26,177.93 784.32,178.93 784.37,179.93 784.43,180.93 784.48,181.93 784.53,182.93 784.57,183.92 784.62,184.92 784.66,185.92 784.69,186.92 784.73,187.92 784.76,188.92 784.78,189.92 784.8,190.92 784.82,191.92 784.84,192.92" fill="none" stroke="#444" stroke-width="0.8"/>
<line x1="780.73" y1="176.17" x2="787.52" y2="175.71" stroke="#111" stroke-width="1.6"/>
<path d="M823.64 140.12 L823.39 138.82 L822.65 137.71 L821.55 136.97 L820.25 136.71 L818.95 136.96 L817.85 137.69 L817.11 138.79 L816.84 140.09 L816.84 141.09 L816.83 142.09 L816.83 143.09 L816.83 144.09 L816.82 145.08 L816.81 146.08 L816.8 147.07 L816.79 148.07 L816.78 149.07 L816.77 150.06 L816.76 151.06 L816.74 152.05 L816.72 153.05 L816.71 154.04 L816.69 155.04 L816.66 156.03 L816.64 157.02 L816.62 158.02 L816.59 159.01 L816.56 160.01 L816.53 161 L816.5 161.99 L816.47 162.99 L816.44 163.98 L816.4 164.97 L816.36 165.97 L816.32 166.96 L816.28 167.95 L816.24 168.95 L816.19 169.94 L816.15 170.93 L816.1 171.92 L816.05 172.92 L816 173.91 L815.94 174.9 L815.88 175.89 L815.83 176.88 L815.77 177.87 L815.7 178.86 L815.64 179.86 L815.57 180.85 L815.5 181.84 L815.43 182.83 L815.36 183.81 L815.28 184.8 L815.2 185.79 L815.12 186.78 L815.04 187.77 L814.96 188.76 L814.87 189.75 L814.78 190.74 L814.69 191.72 L814.59 192.71 L814.5 193.7 L814.4 194.68 L814.3 195.67 L814.19 196.66 L814.08 197.64 L813.98 198.63 L813.86 199.61 L813.75 200.6 L813.63 201.58 L813.51 202.56 L813.39 203.55 L813.27 204.53 L813.14 205.51 L813.01 206.49 L812.88 207.47 L812.74 208.46 L812.6 209.44 L812.46 210.42 L812.32 211.4 L812.17 212.38 L812.02 213.35 L811.87 214.33 L811.71 215.31 L811.55 216.29 L811.39 217.26 L811.23 218.24 L811.06 219.21 L810.89 220.19 L810.72 221.16 L810.54 222.13 L810.36 223.1 L810.17 224.07 L809.98 225.05 L809.79 226.03 L809.6 227.01 L809.47 227.69 L809.48 229.01 L809.99 230.24 L810.93 231.17 L812.16 231.67 L813.49 231.66 L814.71 231.15 L815.65 230.21 L816.15 228.98 L816.28 228.31 L816.47 227.33 L816.66 226.34 L816.85 225.35 L817.04 224.36 L817.22 223.37 L817.41 222.37 L817.58 221.37 L817.76 220.37 L817.93 219.38 L818.1 218.38 L818.26 217.39 L818.42 216.39 L818.58 215.39 L818.74 214.39 L818.89 213.39 L819.04 212.4 L819.19 211.4 L819.33 210.4 L819.47 209.4 L819.61 208.4 L819.75 207.4 L819.88 206.4 L820.01 205.4 L820.14 204.39 L820.26 203.39 L820.38 202.39 L820.5 201.39 L820.62 200.39 L820.73 199.38 L820.84 198.38 L820.95 197.38 L821.06 196.38 L821.16 195.37 L821.26 194.37 L821.36 193.36 L821.46 192.36 L821.55 191.36 L821.64 190.35 L821.73 189.35 L821.82 188.34 L821.9 187.34 L821.98 186.34 L822.06 185.33 L822.14 184.33 L822.21 183.32 L822.28 182.32 L822.35 181.31 L822.42 180.31 L822.49 179.3 L822.55 178.3 L822.61 177.29 L822.67 176.29 L822.73 175.28 L822.79 174.27 L822.84 173.27 L822.89 172.26 L822.94 171.26 L822.99 170.25 L823.03 169.25 L823.08 168.24 L823.12 167.24 L823.16 166.23 L823.2 165.23 L823.23 164.22 L823.27 163.22 L823.3 162.21 L823.33 161.21 L823.36 160.2 L823.39 159.2 L823.42 158.19 L823.44 157.19 L823.46 156.18 L823.48 155.18 L823.5 154.17 L823.52 153.17 L823.54 152.16 L823.56 151.16 L823.57 150.15 L823.58 149.15 L823.59 148.14 L823.6 147.14 L823.61 146.13 L823.62 145.13 L823.63 144.12 L823.63 143.12 L823.63 142.12 L823.64 141.12Z" fill="#fff" stroke="#111" stroke-width="1.6" stroke-linejoin="round"/>
<polyline points="820.23,143.11 820.23,144.11 820.22,145.11 820.21,146.11 820.2,147.11 820.19,148.11 820.18,149.11 820.17,150.11 820.16,151.11 820.14,152.11 820.12,153.11 820.1,154.11 820.09,155.11 820.06,156.1 820.04,157.1 820.02,158.1 819.99,159.1 819.96,160.1 819.93,161.1 819.9,162.1 819.87,163.1 819.84,164.1 819.8,165.1 819.76,166.1 819.72,167.1 819.68,168.1 819.64,169.1 819.59,170.1 819.54,171.1 819.49,172.09 819.44,173.09 819.39,174.09 819.34,175.09 819.28,176.09 819.22,177.09 819.16,178.08 819.1,179.08 819.03,180.08 818.96,181.08 818.89,182.08 818.82,183.07 818.75,184.07 818.67,185.07 818.59,186.06 818.51,187.06 818.43,188.06 818.34,189.05 818.25,190.05 818.16,191.05 818.07,192.04 817.98,193.04 817.88,194.03 817.78,195.03 817.68,196.02 817.57,197.02 817.46,198.01 817.35,199.01 817.24,200 817.13,200.99 817.01,201.99 816.89,202.98 816.76,203.97 816.64,204.96 816.51,205.95 816.38,206.95 816.24,207.94 816.11,208.93 815.97,209.92 815.82,210.91 815.68,211.9 815.53,212.88 815.38,213.87 815.22,214.86 815.07,215.85 814.91,216.84 814.74,217.82 814.58,218.81 814.41,219.79 814.24,220.78 814.06,221.76 813.88,222.75 813.7,223.73 813.51,224.71 813.32,225.69" fill="none" stroke="#444" stroke-width="0.8"/>
<line x1="812.17" y1="212.38" x2="818.89" y2="213.39" stroke="#111" stroke-width="1.6"/>
<path d="M584.04 73.94 L582.52 73.23 L580.84 73.15 L579.26 73.71 L578.02 74.84 L577.31 76.36 L577.23 78.03 L577.79 79.61 L578.92 80.86 L579.73 81.45 L580.53 82.05 L581.33 82.64 L582.13 83.23 L583.17 83.51 L584.05 83.99 L584.89 84.53 L585.68 85.13 L586.44 85.78 L587.15 86.48 L587.71 87.4 L588.5 88 L588.34 89.86 L588.8 90.88 L589.43 91.68 L590.22 92.28 L591.15 92.69 L592.27 92.87 L594.02 92.23 L594.8 92.84 L596.09 92.8 L597.04 93.21 L597.87 93.76 L598.6 94.44 L599.22 95.26 L599.48 96.53 L600.26 97.14 L601.03 97.76 L601.13 99.22 L601.64 100.16 L602.23 101 L602.88 101.77 L603.58 102.48 L604.32 103.14 L605.1 103.74 L605.93 104.28 L606.82 104.76 L607.75 105.18 L608.78 105.49 L610.22 105.31 L610.98 105.95 L611.74 106.59 L612.87 106.79 L613.74 107.3 L614.53 107.9 L615.24 108.59 L615.87 109.38 L616.24 110.47 L616.98 111.12 L617.73 111.77 L618.47 112.43 L618.51 113.87 L618.99 114.82 L619.59 115.63 L620.27 116.33 L621.05 116.95 L621.91 117.46 L622.9 117.84 L624.34 117.73 L625.07 118.41 L625.79 119.08 L626 120.3 L626.52 121.19 L627.1 122 L627.72 122.78 L628.38 123.51 L629.07 124.21 L629.8 124.88 L630.56 125.51 L631.35 126.1 L632.19 126.65 L633.1 127.14 L634.32 127.31 L635.02 128 L635.72 128.7 L636.41 129.41 L637.48 129.74 L638.3 130.33 L639.05 130.98 L639.73 131.69 L640.36 132.46 L640.91 133.3 L641.2 134.38 L641.88 135.1 L642.55 135.82 L643.22 136.54 L643.89 137.27 L644.56 137.99 L644.57 139.31 L644.99 140.26 L645.5 141.12 L646.08 141.91 L646.73 142.65 L647.45 143.32 L648.24 143.93 L649.13 144.46 L650.43 144.63 L651.07 145.38 L651.71 146.13 L652.35 146.89 L652.98 147.64 L653.9 148.16 L654.64 148.83 L655.33 149.54 L655.98 150.28 L656.6 151.04 L657.18 151.84 L657.72 152.66 L658.21 153.52 L658.51 154.53 L659.12 155.32 L659.72 156.11 L660.33 156.9 L660.94 157.69 L661.46 158.37 L662.72 159.47 L664.31 160.01 L665.98 159.9 L667.49 159.16 L668.59 157.89 L669.13 156.3 L669.02 154.63 L668.28 153.13 L667.76 152.46 L667.16 151.67 L666.55 150.87 L665.94 150.07 L665.32 149.28 L664.7 148.48 L664.07 147.67 L663.44 146.87 L662.8 146.07 L662.16 145.28 L661.52 144.49 L660.88 143.7 L660.23 142.92 L659.58 142.14 L658.93 141.36 L658.28 140.58 L657.62 139.81 L656.96 139.04 L656.3 138.27 L655.63 137.5 L654.97 136.73 L654.3 135.97 L653.62 135.21 L652.95 134.46 L652.27 133.7 L651.59 132.95 L650.91 132.2 L650.22 131.45 L649.54 130.7 L648.85 129.96 L648.15 129.22 L647.46 128.48 L646.76 127.74 L646.07 127.01 L645.36 126.28 L644.66 125.55 L643.96 124.82 L643.25 124.1 L642.54 123.37 L641.83 122.65 L641.11 121.93 L640.4 121.22 L639.68 120.5 L638.96 119.79 L638.24 119.08 L637.51 118.37 L636.79 117.67 L636.06 116.96 L635.33 116.26 L634.6 115.57 L633.87 114.87 L633.13 114.17 L632.39 113.48 L631.65 112.79 L630.91 112.1 L630.17 111.41 L629.43 110.73 L628.68 110.05 L627.93 109.37 L627.18 108.69 L626.43 108.01 L625.68 107.33 L624.93 106.66 L624.17 105.99 L623.42 105.32 L622.66 104.65 L621.9 103.99 L621.14 103.33 L620.37 102.66 L619.61 102 L618.84 101.35 L618.07 100.69 L617.3 100.04 L616.54 99.38 L615.76 98.73 L614.99 98.08 L614.22 97.43 L613.44 96.79 L612.66 96.14 L611.89 95.5 L611.11 94.86 L610.33 94.22 L609.55 93.59 L608.76 92.95 L607.98 92.32 L607.19 91.68 L606.41 91.05 L605.62 90.42 L604.83 89.79 L604.04 89.17 L603.25 88.54 L602.46 87.92 L601.67 87.3 L600.88 86.68 L600.08 86.06 L599.29 85.44 L598.49 84.82 L597.69 84.21 L596.9 83.59 L596.1 82.98 L595.3 82.37 L594.5 81.76 L593.69 81.15 L592.89 80.54 L592.09 79.94 L591.29 79.33 L590.48 78.73 L589.68 78.12 L588.87 77.52 L588.06 76.92 L587.25 76.32 L586.45 75.73 L585.64 75.13 L584.84 74.54Z" fill="url(#xh1)" stroke="#111" stroke-width="1.6" stroke-linejoin="round"/>
<path d="M641.94 68.56 L640.61 67.54 L638.99 67.11 L637.33 67.33 L635.87 68.17 L634.85 69.5 L634.42 71.12 L634.64 72.79 L635.48 74.24 L636.14 74.99 L636.81 75.74 L637.47 76.49 L638.13 77.24 L637.94 78.73 L638.3 79.74 L638.79 80.64 L639.39 81.43 L640.09 82.13 L640.9 82.73 L641.85 83.22 L643.35 83.24 L644 83.99 L644.65 84.75 L645.29 85.5 L645.94 86.26 L645.68 87.77 L646.02 88.79 L646.51 89.66 L647.15 90.42 L647.93 91.06 L648.87 91.57 L650.41 91.58 L651.04 92.34 L651.67 93.11 L652.3 93.87 L651.9 95.49 L652.17 96.54 L652.63 97.44 L653.26 98.21 L654.04 98.84 L655.01 99.33 L656.67 99.27 L657.29 100.04 L657.91 100.82 L658.53 101.6 L659.69 101.94 L660.5 102.57 L661.22 103.27 L661.86 104.02 L662.43 104.84 L662.93 105.7 L663.34 106.64 L663.38 107.86 L663.98 108.65 L664.58 109.44 L664.33 110.86 L664.6 111.89 L664.98 112.84 L665.43 113.73 L665.95 114.57 L666.53 115.37 L667.18 116.11 L667.89 116.81 L668.68 117.45 L669.59 118.02 L671.02 118.21 L671.59 119.02 L672.17 119.82 L672.04 121.12 L672.34 122.11 L672.74 123.04 L673.2 123.91 L673.73 124.74 L674.31 125.53 L674.96 126.28 L675.68 126.99 L676.5 127.62 L677.75 127.97 L678.3 128.8 L678.84 129.62 L679.38 130.45 L679.92 131.27 L680.46 132.1 L680.09 133.51 L680.27 134.56 L680.56 135.54 L680.94 136.46 L681.39 137.33 L681.91 138.17 L682.5 138.96 L683.15 139.71 L683.9 140.4 L684.76 141.03 L686.18 141.32 L686.69 142.17 L687.19 143.02 L687.69 143.87 L688.18 144.72 L687.7 146.13 L687.82 147.2 L688.07 148.18 L688.42 149.11 L688.86 149.99 L689.38 150.82 L689.98 151.6 L690.68 152.33 L691.52 152.99 L692.97 153.33 L693.44 154.2 L693.9 155.07 L693.63 156.32 L693.8 157.34 L694.06 158.31 L694.37 159.24 L694.74 160.15 L695.15 161.04 L695.61 161.9 L696.11 162.74 L696.67 163.56 L697.29 164.35 L698 165.1 L699.15 165.64 L699.57 166.53 L699.98 167.42 L700.39 168.32 L700.8 169.21 L700.59 170.38 L700.75 171.38 L700.98 172.35 L701.26 173.29 L701.58 174.22 L701.94 175.13 L702.34 176.02 L702.77 176.9 L703.25 177.75 L703.78 178.6 L704.38 179.41 L705.36 180.07 L705.72 180.99 L706.07 181.9 L706.42 182.82 L706.76 183.74 L707.63 184.47 L708.17 185.32 L708.63 186.2 L709.03 187.1 L709.38 188.03 L709.68 188.97 L709.92 189.92 L710.1 190.9 L710.2 191.9 L709.96 192.99 L710.25 193.92 L710.53 194.85 L710.81 195.79 L710.42 196.93 L710.44 197.95 L710.55 198.95 L710.74 199.93 L712.19 200.55 L712.46 201.52 L712.74 202.48 L712.83 202.78 L713.6 204.27 L714.89 205.35 L716.49 205.85 L718.16 205.71 L719.65 204.93 L720.73 203.65 L721.23 202.05 L721.09 200.38 L721.01 200.1 L720.73 199.15 L720.46 198.19 L720.18 197.22 L719.91 196.26 L719.63 195.29 L719.34 194.32 L719.06 193.34 L718.76 192.37 L718.47 191.39 L718.16 190.4 L717.84 189.42 L717.52 188.45 L717.2 187.48 L716.88 186.51 L716.54 185.55 L716.21 184.58 L715.87 183.62 L715.52 182.66 L715.18 181.71 L714.82 180.75 L714.47 179.8 L714.11 178.84 L713.74 177.89 L713.37 176.94 L713 175.99 L712.62 175.05 L712.24 174.1 L711.86 173.16 L711.47 172.22 L711.07 171.28 L710.68 170.34 L710.28 169.41 L709.87 168.48 L709.47 167.54 L709.05 166.61 L708.64 165.68 L708.22 164.76 L707.8 163.83 L707.37 162.91 L706.94 161.99 L706.51 161.07 L706.07 160.15 L705.63 159.24 L705.18 158.32 L704.74 157.41 L704.29 156.5 L703.83 155.59 L703.37 154.68 L702.91 153.77 L702.45 152.87 L701.98 151.97 L701.51 151.07 L701.04 150.17 L700.56 149.28 L700.08 148.38 L699.6 147.49 L699.11 146.6 L698.62 145.71 L698.13 144.82 L697.63 143.93 L697.13 143.05 L696.63 142.17 L696.13 141.29 L695.62 140.41 L695.11 139.53 L694.6 138.66 L694.08 137.79 L693.57 136.91 L693.04 136.04 L692.52 135.18 L691.99 134.31 L691.46 133.45 L690.93 132.58 L690.4 131.72 L689.86 130.86 L689.32 130.01 L688.78 129.15 L688.23 128.3 L687.69 127.44 L687.14 126.59 L686.58 125.74 L686.03 124.9 L685.47 124.05 L684.91 123.21 L684.35 122.37 L683.79 121.53 L683.22 120.69 L682.65 119.85 L682.08 119.02 L681.51 118.18 L680.93 117.35 L680.35 116.52 L679.77 115.69 L679.19 114.86 L678.61 114.04 L678.02 113.22 L677.43 112.39 L676.84 111.57 L676.25 110.75 L675.66 109.94 L675.06 109.12 L674.46 108.3 L673.86 107.49 L673.26 106.68 L672.66 105.87 L672.05 105.06 L671.44 104.26 L670.84 103.45 L670.22 102.65 L669.61 101.84 L669 101.04 L668.38 100.24 L667.76 99.44 L667.14 98.65 L666.52 97.85 L665.9 97.06 L665.27 96.27 L664.65 95.48 L664.02 94.69 L663.39 93.9 L662.76 93.11 L662.13 92.32 L661.5 91.54 L660.86 90.76 L660.22 89.97 L659.59 89.19 L658.95 88.41 L658.31 87.64 L657.67 86.86 L657.02 86.08 L656.38 85.31 L655.73 84.54 L655.09 83.76 L654.44 82.99 L653.79 82.22 L653.14 81.45 L652.49 80.69 L651.83 79.92 L651.18 79.16 L650.53 78.39 L649.87 77.63 L649.21 76.87 L648.55 76.1 L647.89 75.34 L647.23 74.58 L646.57 73.83 L645.91 73.07 L645.24 72.32 L644.58 71.56 L643.92 70.81 L643.26 70.06 L642.6 69.31Z" fill="url(#xh2)" stroke="#111" stroke-width="1.6" stroke-linejoin="round"/>
<path d="M715.53 182.67 L714.66 181.23 L713.32 180.24 L711.69 179.83 L710.03 180.08 L708.59 180.94 L707.59 182.29 L707.19 183.92 L707.43 185.58 L707.77 186.51 L708.09 187.43 L708.42 188.36 L708.74 189.29 L709.05 190.21 L709.36 191.14 L709.66 192.07 L709.96 192.99 L710.25 193.92 L710.53 194.85 L710.81 195.79 L711.09 196.73 L711.37 197.68 L711.64 198.64 L711.92 199.59 L712.19 200.55 L712.46 201.52 L712.74 202.48 L712.83 202.78 L713.6 204.27 L714.89 205.35 L716.49 205.85 L718.16 205.71 L719.65 204.93 L720.73 203.65 L721.23 202.05 L721.09 200.38 L721.01 200.1 L720.73 199.15 L720.46 198.19 L720.18 197.22 L719.91 196.26 L719.63 195.29 L719.34 194.32 L719.06 193.34 L718.76 192.37 L718.47 191.39 L718.16 190.4 L717.84 189.42 L717.52 188.45 L717.2 187.48 L716.88 186.51 L716.54 185.55 L716.21 184.58 L715.87 183.62Z" fill="#fff" stroke="#111" stroke-width="1.6" stroke-linejoin="round"/>
<polyline points="712.15,186.01 712.48,186.95 712.81,187.9 713.13,188.85 713.44,189.79 713.75,190.74 714.06,191.7 714.36,192.65 714.65,193.61 714.93,194.57 715.22,195.53 715.5,196.49 715.77,197.45 716.05,198.41 716.32,199.37" fill="none" stroke="#444" stroke-width="0.8"/>
<line x1="707.44" y1="185.59" x2="715.52" y2="182.66" stroke="#111" stroke-width="1.6"/>
<path d="M699.21 75.32 L698.12 74.05 L696.62 73.29 L694.95 73.16 L693.35 73.68 L692.08 74.78 L691.32 76.27 L691.2 77.95 L691.72 79.54 L692.21 80.41 L692.7 81.28 L693.19 82.15 L693.68 83.02 L693.33 84.37 L693.49 85.41 L693.77 86.39 L694.14 87.32 L694.58 88.2 L695.1 89.05 L695.69 89.86 L696.37 90.62 L697.17 91.31 L698.49 91.72 L698.97 92.59 L699.44 93.46 L699.91 94.34 L700.77 95.01 L701.38 95.81 L701.92 96.65 L702.41 97.51 L702.85 98.4 L703.24 99.32 L703.56 100.27 L703.63 101.36 L704.09 102.24 L704.54 103.12 L705 104 L705.45 104.89 L705.9 105.77 L705.61 107.03 L705.77 108.05 L706.03 109.03 L706.35 109.98 L706.74 110.89 L707.17 111.77 L707.67 112.63 L708.22 113.46 L708.84 114.26 L709.56 115.01 L710.74 115.54 L711.17 116.43 L711.59 117.33 L710.82 118.79 L710.8 119.89 L710.95 120.9 L711.24 121.85 L711.66 122.75 L712.2 123.58 L712.87 124.36 L713.72 125.05 L715.33 125.41 L715.74 126.31 L716.14 127.22 L716.54 128.12 L716.08 129.41 L716.13 130.46 L716.3 131.46 L716.54 132.43 L716.83 133.37 L717.19 134.29 L717.6 135.18 L718.07 136.05 L718.6 136.9 L719.2 137.71 L719.91 138.49 L721.16 139.05 L721.52 139.97 L721.89 140.88 L722.25 141.8 L722.61 142.72 L721.44 144.24 L721.26 145.35 L721.37 146.36 L721.72 147.28 L722.3 148.11 L723.17 148.83 L725.06 149.19 L725.39 150.11 L725.73 151.04 L724.99 152.35 L724.9 153.42 L724.95 154.45 L725.08 155.44 L725.29 156.4 L725.56 157.34 L725.91 158.26 L726.33 159.15 L726.83 160.02 L727.41 160.86 L728.13 161.66 L729.51 162.25 L729.81 163.19 L730.1 164.13 L730.87 164.93 L731.34 165.82 L731.74 166.73 L732.1 167.65 L732.41 168.59 L732.69 169.54 L732.92 170.5 L733.11 171.47 L733.25 172.46 L733.32 173.46 L733.09 174.54 L733.34 175.49 L733.59 176.45 L734.4 177.25 L734.84 178.15 L735.18 179.08 L735.45 180.03 L735.64 181 L734.97 182.18 L735.2 183.15 L735.43 184.12 L735.65 185.1 L736.34 186.63 L737.57 187.78 L739.14 188.37 L740.81 188.32 L742.34 187.62 L743.49 186.4 L744.08 184.83 L744.03 183.15 L743.8 182.18 L743.58 181.21 L743.35 180.23 L743.12 179.25 L742.89 178.27 L742.65 177.28 L742.41 176.29 L742.17 175.29 L741.91 174.3 L741.66 173.32 L741.4 172.33 L741.14 171.35 L740.87 170.37 L740.6 169.39 L740.33 168.42 L740.05 167.44 L739.77 166.46 L739.49 165.49 L739.2 164.51 L738.91 163.54 L738.62 162.57 L738.32 161.6 L738.02 160.63 L737.71 159.66 L737.41 158.7 L737.1 157.73 L736.78 156.77 L736.47 155.8 L736.15 154.84 L735.82 153.88 L735.5 152.92 L735.17 151.96 L734.84 151 L734.5 150.05 L734.16 149.09 L733.82 148.13 L733.48 147.18 L733.13 146.23 L732.78 145.28 L732.43 144.33 L732.07 143.38 L731.72 142.43 L731.36 141.49 L730.99 140.54 L730.63 139.6 L730.26 138.65 L729.88 137.71 L729.51 136.77 L729.13 135.83 L728.75 134.9 L728.37 133.96 L727.99 133.02 L727.6 132.09 L727.21 131.15 L726.82 130.22 L726.42 129.29 L726.02 128.36 L725.62 127.43 L725.22 126.51 L724.82 125.58 L724.41 124.65 L724 123.73 L723.59 122.8 L723.18 121.88 L722.76 120.96 L722.34 120.04 L721.92 119.12 L721.5 118.21 L721.08 117.29 L720.65 116.37 L720.22 115.46 L719.79 114.54 L719.36 113.63 L718.93 112.72 L718.49 111.81 L718.05 110.9 L717.61 109.99 L717.17 109.09 L716.72 108.18 L716.28 107.28 L715.83 106.37 L715.38 105.47 L714.93 104.57 L714.48 103.67 L714.02 102.77 L713.56 101.87 L713.11 100.97 L712.65 100.07 L712.18 99.18 L711.72 98.28 L711.26 97.39 L710.79 96.49 L710.32 95.6 L709.85 94.71 L709.38 93.82 L708.91 92.93 L708.44 92.04 L707.96 91.15 L707.49 90.27 L707.01 89.38 L706.53 88.49 L706.05 87.61 L705.57 86.73 L705.08 85.84 L704.6 84.96 L704.12 84.08 L703.63 83.2 L703.14 82.32 L702.65 81.44 L702.16 80.56 L701.67 79.68 L701.18 78.81 L700.68 77.93 L700.19 77.06 L699.7 76.19Z" fill="url(#xh3)" stroke="#111" stroke-width="1.6" stroke-linejoin="round"/>
<path d="M753.83 93.85 L753.03 92.38 L751.72 91.32 L750.11 90.85 L748.44 91.02 L746.97 91.83 L745.92 93.13 L745.44 94.74 L745.62 96.41 L745.92 97.37 L746.22 98.32 L746.51 99.28 L746.81 100.23 L746.25 101.45 L746.26 102.49 L746.42 103.48 L746.71 104.43 L747.13 105.33 L747.72 106.19 L748.86 106.88 L749.15 107.83 L749.43 108.78 L749.72 109.74 L749.08 110.96 L749.04 112 L749.18 113 L749.45 113.95 L749.87 114.86 L750.46 115.72 L751.66 116.41 L751.93 117.36 L752.2 118.32 L752.47 119.28 L752.73 120.23 L751.84 121.51 L751.71 122.57 L751.79 123.58 L752.04 124.53 L752.48 125.43 L753.13 126.28 L754.55 126.93 L754.8 127.89 L755.05 128.85 L755.3 129.81 L756.03 130.65 L756.44 131.57 L756.76 132.51 L757 133.47 L757.16 134.46 L757.23 135.46 L756.97 136.54 L757.2 137.5 L756.3 138.74 L756.12 139.79 L756.13 140.81 L756.28 141.78 L756.57 142.73 L757 143.64 L757.63 144.51 L758.97 145.23 L759.18 146.19 L759.39 147.16 L760.08 148.02 L760.45 148.96 L760.73 149.91 L760.93 150.88 L761.05 151.87 L761.08 152.88 L760.78 153.94 L760.97 154.91 L761.16 155.88 L761.34 156.85 L762.03 157.73 L762.4 158.67 L762.69 159.62 L762.94 160.59 L763.13 161.56 L763.27 162.54 L763.37 163.53 L763.41 164.52 L763.37 165.53 L763.02 166.59 L763.17 167.56 L763.32 168.54 L763.47 169.51 L763.61 170.49 L762.36 171.67 L762.02 172.71 L761.94 173.71 L762.07 174.68 L762.41 175.62 L763.02 176.53 L764.53 177.34 L764.65 178.31 L763.25 179.47 L762.82 180.51 L762.63 181.51 L762.64 182.5 L762.84 183.46 L763.23 184.4 L763.87 185.32 L765.49 186.16 L765.58 187.14 L765.66 188.12 L765.74 189.1 L765.82 190.08 L766.36 191.03 L766.6 192 L766.78 192.98 L766.91 193.96 L766.99 194.94 L767.03 195.93 L767.02 196.92 L766.97 197.91 L766.84 198.9 L766.42 199.91 L766.46 200.89 L766.5 201.87 L766.53 202.86 L766.56 203.84 L766.59 204.82 L767.31 205.79 L767.58 206.77 L767.73 207.76 L767.79 208.75 L767.75 209.73 L767.61 210.72 L767.36 211.7 L766.65 212.68 L766.64 213.67 L766.63 214.65 L766.61 215.63 L765.83 216.59 L765.52 217.57 L765.32 218.54 L765.18 219.51 L765.11 220.48 L765.1 221.46 L765.15 222.44 L765.28 223.42 L765.51 224.41 L766.2 225.44 L766.13 226.42 L766.06 227.4 L765.99 228.37 L765.91 229.35 L765.83 230.33 L766.13 231.34 L766.18 232.33 L766.18 233.31 L766.13 234.28 L766.04 235.25 L765.91 236.23 L765.73 237.2 L765.52 238.17 L765.24 239.13 L764.73 240.06 L764.6 241.05 L764.46 242.04 L764.33 243.04 L764.21 243.95 L764.32 245.63 L765.06 247.13 L766.32 248.24 L767.91 248.78 L769.58 248.67 L771.09 247.92 L772.2 246.66 L772.73 245.07 L772.85 244.17 L772.99 243.19 L773.12 242.2 L773.25 241.2 L773.39 240.2 L773.52 239.2 L773.65 238.19 L773.77 237.18 L773.89 236.17 L774.01 235.14 L774.12 234.12 L774.22 233.1 L774.31 232.08 L774.4 231.06 L774.49 230.05 L774.57 229.03 L774.64 228.02 L774.71 227 L774.78 225.98 L774.84 224.97 L774.9 223.95 L774.95 222.93 L775 221.91 L775.05 220.9 L775.09 219.88 L775.12 218.86 L775.15 217.84 L775.18 216.83 L775.21 215.81 L775.22 214.79 L775.24 213.77 L775.25 212.76 L775.26 211.74 L775.26 210.72 L775.26 209.7 L775.25 208.69 L775.24 207.67 L775.23 206.65 L775.21 205.64 L775.19 204.62 L775.16 203.6 L775.13 202.59 L775.1 201.57 L775.06 200.56 L775.02 199.54 L774.97 198.52 L774.92 197.51 L774.87 196.49 L774.81 195.48 L774.75 194.47 L774.69 193.45 L774.62 192.44 L774.55 191.43 L774.48 190.42 L774.4 189.4 L774.32 188.39 L774.23 187.38 L774.14 186.37 L774.05 185.36 L773.95 184.35 L773.85 183.34 L773.75 182.33 L773.64 181.32 L773.54 180.31 L773.42 179.31 L773.31 178.3 L773.19 177.29 L773.07 176.28 L772.94 175.28 L772.81 174.27 L772.68 173.27 L772.54 172.26 L772.41 171.26 L772.26 170.26 L772.12 169.25 L771.97 168.25 L771.82 167.25 L771.67 166.25 L771.51 165.25 L771.35 164.25 L771.19 163.25 L771.03 162.25 L770.86 161.25 L770.69 160.25 L770.51 159.26 L770.34 158.26 L770.16 157.26 L769.98 156.27 L769.79 155.27 L769.6 154.28 L769.41 153.29 L769.22 152.29 L769.03 151.3 L768.83 150.31 L768.63 149.32 L768.42 148.33 L768.22 147.34 L768.01 146.35 L767.8 145.36 L767.59 144.37 L767.37 143.38 L767.16 142.4 L766.94 141.41 L766.71 140.43 L766.49 139.44 L766.26 138.46 L766.03 137.47 L765.8 136.49 L765.57 135.51 L765.33 134.53 L765.1 133.55 L764.86 132.56 L764.62 131.58 L764.37 130.6 L764.12 129.63 L763.88 128.65 L763.63 127.67 L763.37 126.7 L763.12 125.72 L762.86 124.75 L762.61 123.77 L762.35 122.79 L762.09 121.82 L761.82 120.85 L761.56 119.87 L761.29 118.9 L761.02 117.93 L760.75 116.96 L760.48 115.99 L760.21 115.02 L759.93 114.05 L759.65 113.09 L759.38 112.12 L759.1 111.15 L758.81 110.18 L758.53 109.22 L758.25 108.25 L757.96 107.29 L757.67 106.32 L757.38 105.36 L757.09 104.4 L756.8 103.43 L756.51 102.46 L756.21 101.5 L755.92 100.54 L755.62 99.58 L755.32 98.62 L755.02 97.67 L754.72 96.71 L754.42 95.75 L754.13 94.8Z" fill="url(#xh4)" stroke="#111" stroke-width="1.6" stroke-linejoin="round"/>
<path d="M774.56 229.04 L774.37 227.38 L773.55 225.91 L772.23 224.87 L770.62 224.42 L768.95 224.61 L767.49 225.43 L766.45 226.75 L765.99 228.36 L765.91 229.35 L765.83 230.33 L765.75 231.3 L765.65 232.28 L765.56 233.25 L765.46 234.21 L765.35 235.17 L765.23 236.14 L765.11 237.12 L764.99 238.1 L764.86 239.08 L764.73 240.06 L764.6 241.05 L764.46 242.04 L764.33 243.04 L764.21 243.95 L764.32 245.63 L765.06 247.13 L766.32 248.24 L767.91 248.78 L769.58 248.67 L771.09 247.92 L772.2 246.66 L772.73 245.07 L772.85 244.17 L772.99 243.19 L773.12 242.2 L773.25 241.2 L773.39 240.2 L773.52 239.2 L773.65 238.19 L773.77 237.18 L773.89 236.17 L774.01 235.14 L774.12 234.12 L774.22 233.1 L774.31 232.08 L774.4 231.06 L774.49 230.05Z" fill="#fff" stroke="#111" stroke-width="1.6" stroke-linejoin="round"/>
<polyline points="770.12,230.7 770.03,231.69 769.94,232.69 769.84,233.68 769.73,234.68 769.62,235.67 769.5,236.66 769.38,237.66 769.25,238.65 769.12,239.64 768.99,240.63 768.86,241.62" fill="none" stroke="#444" stroke-width="0.8"/>
<line x1="765.99" y1="228.37" x2="774.57" y2="229.03" stroke="#111" stroke-width="1.6"/>
<path d="M803.4 123.32 L802.92 121.71 L801.86 120.41 L800.38 119.61 L798.71 119.44 L797.11 119.92 L795.8 120.98 L795.01 122.46 L794.84 124.13 L794.93 125.12 L795.02 126.12 L795.12 127.11 L795.21 128.11 L795.64 129.07 L795.86 130.05 L796.03 131.03 L796.17 132.01 L796.28 133 L796.37 133.99 L796.43 134.99 L796.46 135.98 L796.45 136.98 L796.41 137.98 L796.15 139 L796.23 139.99 L795.49 141.04 L795.26 142.05 L795.14 143.05 L795.1 144.05 L795.13 145.04 L795.23 146.03 L795.41 147.01 L795.67 147.98 L796.03 148.95 L796.9 149.89 L796.96 150.88 L797.02 151.87 L797.07 152.86 L797.12 153.85 L797.18 154.84 L797.83 155.81 L798.09 156.79 L798.26 157.77 L798.34 158.77 L798.34 159.76 L798.26 160.76 L798.08 161.76 L797.51 162.77 L797.54 163.76 L797.57 164.75 L797.6 165.74 L796.54 166.76 L796.22 167.75 L796.13 168.74 L796.26 169.72 L796.62 170.7 L797.72 171.68 L797.73 172.67 L797.74 173.66 L797.75 174.65 L797.07 175.64 L796.81 176.63 L796.63 177.61 L796.51 178.6 L796.43 179.58 L796.4 180.57 L796.42 181.55 L796.47 182.54 L796.58 183.53 L796.74 184.52 L796.99 185.51 L797.64 186.51 L797.62 187.5 L797.59 188.49 L797.56 189.48 L796.15 190.41 L795.68 191.38 L795.51 192.36 L795.6 193.35 L795.99 194.35 L797.31 195.4 L797.26 196.38 L796.32 197.32 L795.96 198.28 L795.76 199.26 L795.7 200.24 L795.78 201.23 L796.01 202.23 L796.83 203.28 L796.75 204.26 L796.67 205.24 L796.59 206.23 L796.51 207.21 L795.33 208.1 L794.81 209.03 L794.44 209.98 L794.15 210.94 L793.94 211.9 L793.8 212.87 L793.73 213.85 L793.73 214.83 L793.81 215.83 L793.98 216.83 L794.29 217.86 L795.25 218.97 L795.12 219.95 L794.99 220.92 L794.86 221.9 L794.72 222.87 L795.05 223.92 L795.05 224.91 L794.95 225.9 L794.75 226.86 L794.45 227.82 L793.83 228.71 L793.67 229.68 L793.5 230.64 L793.33 231.6 L793.16 232.57 L791.82 233.33 L791.19 234.21 L792.61 235.49 L792.42 236.47 L792.23 237.46 L792.13 238.01 L792.14 239.68 L792.8 241.23 L794 242.4 L795.56 243.03 L797.23 243.01 L798.78 242.35 L799.95 241.15 L800.58 239.6 L800.68 239.06 L800.87 238.09 L801.05 237.1 L801.24 236.11 L801.43 235.12 L801.61 234.13 L801.8 233.13 L801.98 232.12 L802.15 231.11 L802.32 230.11 L802.48 229.1 L802.64 228.1 L802.79 227.1 L802.95 226.09 L803.09 225.09 L803.24 224.08 L803.38 223.08 L803.52 222.07 L803.65 221.07 L803.78 220.06 L803.91 219.05 L804.03 218.04 L804.15 217.04 L804.27 216.03 L804.38 215.02 L804.49 214.01 L804.6 213 L804.7 211.99 L804.8 210.98 L804.89 209.97 L804.99 208.97 L805.08 207.96 L805.16 206.95 L805.25 205.94 L805.33 204.93 L805.4 203.91 L805.48 202.9 L805.55 201.89 L805.61 200.88 L805.68 199.87 L805.74 198.86 L805.8 197.85 L805.85 196.84 L805.9 195.83 L805.95 194.82 L806 193.8 L806.04 192.79 L806.08 191.78 L806.12 190.77 L806.15 189.76 L806.19 188.75 L806.22 187.74 L806.24 186.72 L806.27 185.71 L806.29 184.7 L806.3 183.69 L806.32 182.68 L806.33 181.67 L806.34 180.66 L806.35 179.65 L806.36 178.63 L806.36 177.62 L806.36 176.61 L806.35 175.6 L806.35 174.59 L806.34 173.58 L806.33 172.57 L806.32 171.56 L806.3 170.55 L806.29 169.54 L806.27 168.53 L806.25 167.52 L806.22 166.51 L806.2 165.5 L806.17 164.5 L806.14 163.49 L806.1 162.48 L806.07 161.47 L806.03 160.46 L805.99 159.45 L805.95 158.44 L805.91 157.44 L805.86 156.43 L805.81 155.42 L805.76 154.41 L805.71 153.41 L805.66 152.4 L805.6 151.39 L805.55 150.39 L805.49 149.38 L805.43 148.38 L805.36 147.37 L805.3 146.36 L805.23 145.36 L805.17 144.35 L805.1 143.35 L805.03 142.34 L804.95 141.34 L804.88 140.34 L804.8 139.33 L804.73 138.33 L804.65 137.33 L804.57 136.32 L804.48 135.32 L804.4 134.32 L804.32 133.31 L804.23 132.31 L804.14 131.31 L804.05 130.31 L803.96 129.3 L803.87 128.3 L803.78 127.3 L803.68 126.3 L803.59 125.31 L803.49 124.31Z" fill="url(#xh5)" stroke="#111" stroke-width="1.6" stroke-linejoin="round"/>
<path d="M803.09 225.1 L803.01 223.42 L802.29 221.9 L801.05 220.78 L799.47 220.21 L797.79 220.3 L796.28 221.02 L795.15 222.26 L794.59 223.84 L794.44 224.82 L794.29 225.8 L794.14 226.77 L793.99 227.74 L793.83 228.71 L793.67 229.68 L793.5 230.64 L793.33 231.6 L793.16 232.57 L792.97 233.54 L792.79 234.52 L792.61 235.49 L792.42 236.47 L792.23 237.46 L792.13 238.01 L792.14 239.68 L792.8 241.23 L794 242.4 L795.56 243.03 L797.23 243.01 L798.78 242.35 L799.95 241.15 L800.58 239.6 L800.68 239.06 L800.87 238.09 L801.05 237.1 L801.24 236.11 L801.43 235.12 L801.61 234.13 L801.8 233.13 L801.98 232.12 L802.15 231.11 L802.32 230.11 L802.48 229.1 L802.64 228.1 L802.79 227.1 L802.95 226.09Z" fill="#fff" stroke="#111" stroke-width="1.6" stroke-linejoin="round"/>
<polyline points="798.54,226.45 798.39,227.43 798.23,228.42 798.07,229.41 797.91,230.4 797.74,231.38 797.56,232.37 797.38,233.35 797.2,234.33 797.02,235.32 796.83,236.3" fill="none" stroke="#444" stroke-width="0.8"/>
<line x1="794.58" y1="223.85" x2="803.09" y2="225.09" stroke="#111" stroke-width="1.6"/>
<line x1="589.48" y1="77.85" x2="591.25" y2="71.44" stroke="#111" stroke-width="1.4" stroke-linecap="round"/>
<circle cx="591.25" cy="71.44" r="1.1" fill="#111"/>
<line x1="646.44" y1="73.52" x2="649.52" y2="67.62" stroke="#111" stroke-width="1.4" stroke-linecap="round"/>
<circle cx="649.52" cy="67.62" r="1.1" fill="#111"/>
<line x1="702.58" y1="81.11" x2="706.82" y2="75.98" stroke="#111" stroke-width="1.4" stroke-linecap="round"/>
<circle cx="706.82" cy="75.98" r="1.1" fill="#111"/>
<line x1="755.92" y1="100.21" x2="761.13" y2="96.07" stroke="#111" stroke-width="1.4" stroke-linecap="round"/>
<circle cx="761.13" cy="96.07" r="1.1" fill="#111"/>
<line x1="804.12" y1="129.98" x2="810.08" y2="127.02" stroke="#111" stroke-width="1.4" stroke-linecap="round"/>
<circle cx="810.08" cy="127.02" r="1.1" fill="#111"/>
<line x1="616.67" y1="74.27" x2="619.08" y2="68.07" stroke="#111" stroke-width="1.4" stroke-linecap="round"/>
<circle cx="619.08" cy="68.07" r="1.1" fill="#111"/>
<line x1="673.3" y1="75.66" x2="676.95" y2="70.1" stroke="#111" stroke-width="1.4" stroke-linecap="round"/>
<circle cx="676.95" cy="70.1" r="1.1" fill="#111"/>
<line x1="728.42" y1="88.79" x2="733.14" y2="84.11" stroke="#111" stroke-width="1.4" stroke-linecap="round"/>
<circle cx="733.14" cy="84.11" r="1.1" fill="#111"/>
<line x1="779.59" y1="113.09" x2="785.19" y2="109.49" stroke="#111" stroke-width="1.4" stroke-linecap="round"/>
<circle cx="785.19" cy="109.49" r="1.1" fill="#111"/>
<line x1="824.6" y1="147.5" x2="830.82" y2="145.14" stroke="#111" stroke-width="1.4" stroke-linecap="round"/>
<circle cx="830.82" cy="145.14" r="1.1" fill="#111"/>
<path d="M527.6 100.2 L525.2 97.5 L524.7 94.3 L525.8 90 L528.5 87 L531 86.3 L537.7 84.7 L545 86 L559.67 88.23 L560.83 88.92 L561.99 89.61 L563.15 90.31 L564.31 91.01 L565.47 91.72 L566.63 92.42 L567.79 93.13 L568.95 93.85 L570.11 94.57 L571.27 95.29 L572.43 96.01 L573.59 96.74 L574.75 97.47 L575.91 98.21 L577.07 98.95 L578.23 99.69 L579.38 100.44 L580.54 101.19 L581.7 101.94 L582.85 102.7 L584 103.46 L585.16 104.23 L586.31 105 L587.46 105.78 L588.61 106.56 L589.76 107.34 L590.91 108.13 L592.05 108.92 L593.19 109.71 L594.34 110.51 L595.48 111.32 L596.61 112.13 L597.75 112.94 L598.89 113.76 L600.02 114.58 L601.15 115.41 L602.28 116.24 L603.4 117.08 L604.52 117.92 L605.65 118.77 L606.76 119.62 L607.88 120.47 L608.99 121.33 L610.1 122.19 L611.21 123.06 L612.31 123.94 L613.41 124.82 L614.51 125.7 L615.6 126.59 L616.69 127.48 L617.78 128.38 L618.87 129.29 L619.95 130.19 L621.02 131.11 L622.09 132.03 L623.16 132.95 L624.23 133.88 L625.29 134.81 L626.34 135.75 L627.4 136.69 L628.44 137.64 L629.49 138.59 L630.52 139.55 L631.56 140.51 L632.59 141.48 L633.61 142.46 L634.63 143.44 L635.64 144.42 L636.65 145.41 L637.65 146.4 L638.65 147.4 L639.65 148.4 L640.63 149.41 L641.61 150.43 L642.59 151.45 L643.56 152.47 L644.52 153.5 L645.48 154.53 L646.43 155.57 L647.38 156.61 L648.32 157.66 L649.25 158.72 L650.18 159.78 L651.1 160.84 L652.01 161.91 L652.91 162.98 L653.81 164.06 L655.5 167.3 L645 168.9 L632.53 169.5 L631.67 168.53 L630.81 167.56 L629.94 166.6 L629.07 165.64 L628.19 164.69 L626.69 163.78 L625.5 162.86 L624.39 161.94 L623.35 161.02 L622.36 160.1 L621.43 159.18 L620.55 158.25 L619.72 157.33 L618.95 156.4 L618.24 155.47 L617.61 154.53 L617.26 153.57 L616.29 152.67 L615.31 151.78 L613.44 151 L612.03 150.18 L610.76 149.35 L609.58 148.51 L608.49 147.66 L607.5 146.8 L606.59 145.93 L605.78 145.05 L605.07 144.16 L604.49 143.24 L604.36 142.25 L603.35 141.4 L602.33 140.57 L601.31 139.73 L600.29 138.9 L599.17 138.1 L598.06 137.29 L596.29 136.62 L594.86 135.9 L593.54 135.15 L592.29 134.4 L591.13 133.64 L590.03 132.86 L589.01 132.07 L588.07 131.26 L587.23 130.43 L586.73 129.52 L585.59 128.77 L584.44 128.03 L583.29 127.29 L582.13 126.55 L580.98 125.82 L579.82 125.09 L577.76 124.61 L576.2 124.01 L574.82 123.36 L573.58 122.68 L572.49 121.96 L571.56 121.19 L570.79 120.38 L570.52 119.42 L569.35 118.73 L568.18 118.04 L566.16 117.63 L564.56 117.09 L563.12 116.51 L561.83 115.89 L560.68 115.22 L559.7 114.5 L559.13 113.64 L557.83 113.03 L556.53 112.42 L555.23 111.82 L553.37 111.43 L551.79 110.95 L550.3 110.44 L548.87 109.91 L547.49 109.37 L546.16 108.81 L544.88 108.24 L543.66 107.65 L542.49 107.05 L541.37 106.42 L540.34 105.76 L539.59 104.99 L538.29 104.45 L536.98 103.91 L535.68 103.38 L534.37 102.85 L532.5 101.6Z" fill="url(#xh6)" stroke="#111" stroke-width="1.7" stroke-linejoin="round"/>
<line x1="565" y1="94.5" x2="567.8" y2="90.5" stroke="#111" stroke-width="1.4" stroke-linecap="round"/>
<circle cx="567.8" cy="90.5" r="1.1" fill="#111"/>
<line x1="531.89" y1="106.12" x2="528.26" y2="113.31" stroke="#999" stroke-width="0.8"/>
<line x1="547.62" y1="112.54" x2="543.92" y2="119.44" stroke="#999" stroke-width="0.8"/>
<line x1="565.73" y1="120.92" x2="561.96" y2="127.48" stroke="#999" stroke-width="0.8"/>
<line x1="582.08" y1="130.7" x2="578.27" y2="136.94" stroke="#999" stroke-width="0.8"/>
<line x1="597.94" y1="141.39" x2="594.09" y2="147.32" stroke="#999" stroke-width="0.8"/>
<line x1="612.09" y1="153.2" x2="608.23" y2="158.84" stroke="#999" stroke-width="0.8"/>
</svg></body></html>
